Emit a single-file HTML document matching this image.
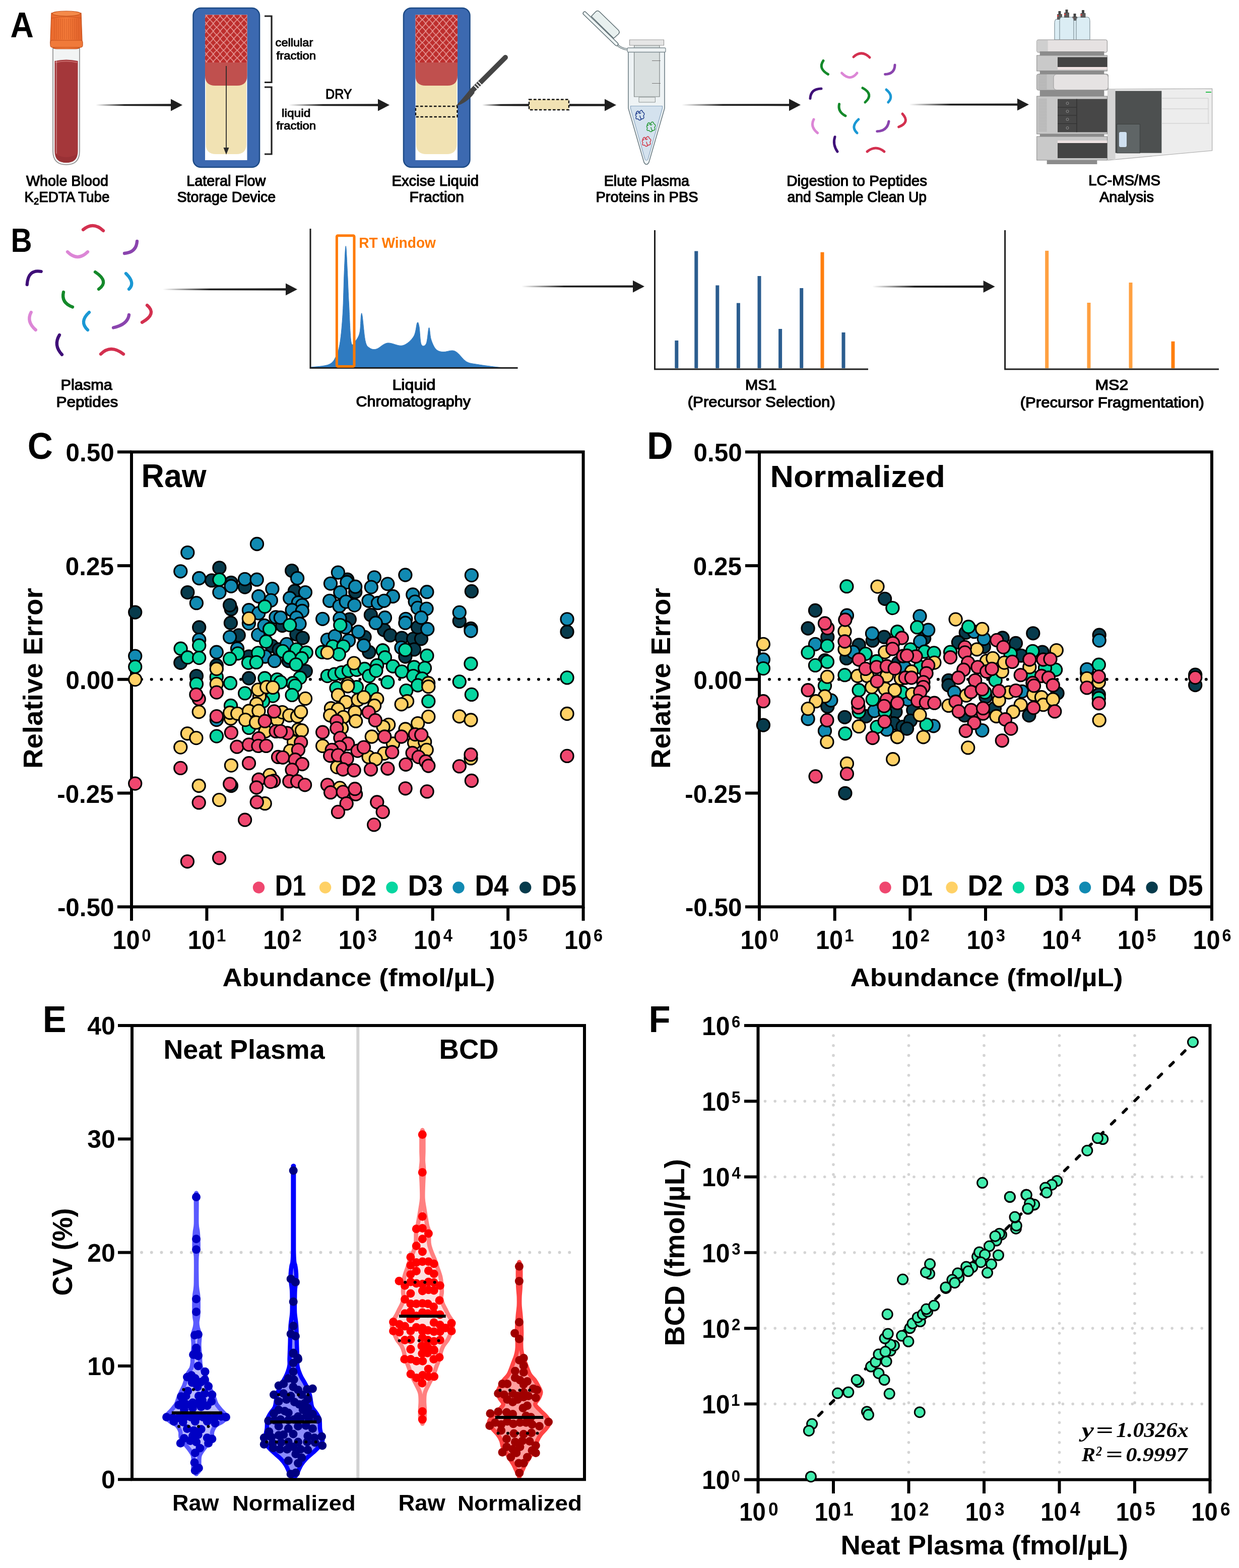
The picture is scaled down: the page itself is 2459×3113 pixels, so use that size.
<!DOCTYPE html>
<html><head><meta charset="utf-8"><title>Figure</title>
<style>html,body{margin:0;padding:0;background:#fff;}svg{display:block;}</style>
</head><body>
<svg width="2459" height="3113" viewBox="0 0 2459 3113" font-family="'Liberation Sans', Arial, sans-serif">
<rect x="0" y="0" width="2459" height="3113" fill="#fff"/>
<defs>
<pattern id="mesh" patternUnits="userSpaceOnUse" x="402.8" y="39" width="13.6" height="15.2"><path d="M0,0 Q3.8,3.2 6.8,7.6 Q9.8,12 13.6,15.2 M13.6,0 Q9.8,3.2 6.8,7.6 Q3.8,12 0,15.2" fill="none" stroke="#eaa2a0" stroke-width="1.3"/></pattern>
<linearGradient id="capg" x1="0" x2="1" y1="0" y2="0"><stop offset="0" stop-color="#e9682c"/><stop offset="0.5" stop-color="#f47b39"/><stop offset="1" stop-color="#e3622a"/></linearGradient>
</defs>
<text x="20.4" y="74.0" font-size="69.6" font-weight="bold" textLength="46.3" lengthAdjust="spacingAndGlyphs" >A</text>
<path d="M105,96 V300 Q105,327 131.5,327 Q158,327 158,300 V96 Z" fill="#f2f4f4" stroke="#8c8c8c" stroke-width="1.6"/>
<path d="M108.5,121 Q131.5,116 154.5,121 V300 Q154.5,323 131.5,323 Q108.5,323 108.5,300 Z" fill="#a4373a"/>
<path d="M110,124 Q131.5,119 153,124" stroke="#c86a6a" stroke-width="2" fill="none"/>
<path d="M112,118 V305" stroke="#ffffff" stroke-width="1" opacity="0.6"/>
<path d="M110,306 Q131.5,318 153,306 Q153,322 131.5,323 Q110,322 110,306 Z" fill="#963034" opacity="0.8"/>
<path d="M102,26 Q132,20 161,26 L163,82 Q164,96 150,97 H113 Q99,96 100,82 Z" fill="url(#capg)" stroke="#c4501a" stroke-width="1.2"/>
<rect x="100" y="80" width="64" height="14" rx="4" fill="#f07a3a" stroke="#c4501a" stroke-width="1.2"/>
<ellipse cx="131.5" cy="27" rx="28" ry="5" fill="#f48a4a" stroke="#c4501a" stroke-width="1.2"/>
<path d="M108,37 V78 M112,37 V78 M116,37 V78 M120,37 V78 M124,37 V78 M128,37 V78 M132,37 V78 M136,37 V78 M140,37 V78 M144,37 V78 M148,37 V78 M152,37 V78 M156,37 V78 " stroke="#c85420" stroke-width="0.9" opacity="0.7"/>
<path d="M102,36 Q132,31 161,36" stroke="#c85420" stroke-width="1.2" fill="none"/>
<linearGradient id="ag1" gradientUnits="userSpaceOnUse" x1="190" y1="0" x2="247.4" y2="0"><stop offset="0" stop-color="#1e1e1e" stop-opacity="0"/><stop offset="1" stop-color="#1e1e1e" stop-opacity="1"/></linearGradient>
<path d="M190,206.95 L341,206.35 L341,210.65 L190,210.05 Z" fill="url(#ag1)"/>
<path d="M339,196.5 L362,208.5 L339,220.5 Z" fill="#1e1e1e"/>
<text x="51.9" y="368.9" font-size="29.0" stroke="#000" stroke-width="1.22" stroke-linejoin="round" textLength="163.0" lengthAdjust="spacingAndGlyphs" >Whole Blood</text>
<text x="48.5" y="401" font-size="29" stroke="#000" stroke-width="1.2" stroke-linejoin="round" textLength="169" lengthAdjust="spacingAndGlyphs">K<tspan font-size="19" dy="5">2</tspan><tspan dy="-5">EDTA Tube</tspan></text>
<rect x="383.5" y="16" width="131.5" height="316" rx="15" fill="#3c69b0" stroke="#1c4a86" stroke-width="2.5"/>
<rect x="407" y="29.5" width="83.5" height="288.5" fill="#ffffff"/>
<path d="M408.5,150 H489 V286 Q489,306 469,306 H428.5 Q408.5,306 408.5,286 Z" fill="#f1e2b3"/>
<path d="M407,110 H490.5 V150 Q490.5,170 470.5,170 H427 Q407,170 407,150 Z" fill="#c0504e"/>
<rect x="407" y="29.5" width="83.5" height="94.5" fill="#bd2e2d"/>
<rect x="407" y="29.5" width="83.5" height="94.5" fill="url(#mesh)"/>
<path d="M449,131 V296" stroke="#2a2a2a" stroke-width="1.8"/>
<path d="M443.5,293 L449,307 L454.5,293 Z" fill="#2a2a2a"/>
<path d="M525,32 H539 V163.5 H525 M525,173 H539 V306 H525" fill="none" stroke="#222" stroke-width="3.2"/>
<text x="546.6" y="91.5" font-size="21.4" stroke="#000" stroke-width="0.90" stroke-linejoin="round" textLength="74.7" lengthAdjust="spacingAndGlyphs" >cellular</text>
<text x="548.6" y="118.0" font-size="21.4" stroke="#000" stroke-width="0.90" stroke-linejoin="round" textLength="78.6" lengthAdjust="spacingAndGlyphs" >fraction</text>
<text x="559.0" y="232.4" font-size="21.4" stroke="#000" stroke-width="0.90" stroke-linejoin="round" textLength="57.3" lengthAdjust="spacingAndGlyphs" >liquid</text>
<text x="548.6" y="257.0" font-size="21.4" stroke="#000" stroke-width="0.90" stroke-linejoin="round" textLength="78.6" lengthAdjust="spacingAndGlyphs" >fraction</text>
<text x="646.0" y="195.5" font-size="26.8" stroke="#000" stroke-width="1.13" stroke-linejoin="round" textLength="52.6" lengthAdjust="spacingAndGlyphs" >DRY</text>
<linearGradient id="ag2" gradientUnits="userSpaceOnUse" x1="573" y1="0" x2="641.0" y2="0"><stop offset="0" stop-color="#1e1e1e" stop-opacity="0"/><stop offset="1" stop-color="#1e1e1e" stop-opacity="1"/></linearGradient>
<path d="M573,206.95 L752,206.35 L752,210.65 L573,210.05 Z" fill="url(#ag2)"/>
<path d="M750,196.5 L773,208.5 L750,220.5 Z" fill="#1e1e1e"/>
<text x="370.2" y="368.9" font-size="29.0" stroke="#000" stroke-width="1.22" stroke-linejoin="round" textLength="157.1" lengthAdjust="spacingAndGlyphs" >Lateral Flow</text>
<text x="351.5" y="400.8" font-size="29.0" stroke="#000" stroke-width="1.22" stroke-linejoin="round" textLength="195.8" lengthAdjust="spacingAndGlyphs" >Storage Device</text>
<rect x="801.0" y="16" width="131.5" height="316" rx="15" fill="#3c69b0" stroke="#1c4a86" stroke-width="2.5"/>
<rect x="824.5" y="29.5" width="83.5" height="288.5" fill="#ffffff"/>
<path d="M826.0,150 H906.5 V286 Q906.5,306 886.5,306 H846.0 Q826.0,306 826.0,286 Z" fill="#f1e2b3"/>
<path d="M824.5,110 H908.0 V150 Q908.0,170 888.0,170 H844.5 Q824.5,170 824.5,150 Z" fill="#c0504e"/>
<rect x="824.5" y="29.5" width="83.5" height="94.5" fill="#bd2e2d"/>
<rect x="824.5" y="29.5" width="83.5" height="94.5" fill="url(#mesh)"/>
<rect x="825.0" y="211" width="82.5" height="21" fill="none" stroke="#111" stroke-width="2.4" stroke-dasharray="5.5 3.5"/>
<path d="M937,180 L1003,114" stroke="#454545" stroke-width="10" stroke-linecap="round"/>
<path d="M941,170 L948,177 M945,166 L952,173 M949,162 L956,169" stroke="#ffffff" stroke-width="1.8"/>
<path d="M934,176 L942,184 Q928,204 904,211 Q918,196 934,176 Z" fill="#454545"/>
<text x="777.4" y="368.9" font-size="29.0" stroke="#000" stroke-width="1.22" stroke-linejoin="round" textLength="172.6" lengthAdjust="spacingAndGlyphs" >Excise Liquid</text>
<text x="812.6" y="400.8" font-size="29.0" stroke="#000" stroke-width="1.22" stroke-linejoin="round" textLength="108.4" lengthAdjust="spacingAndGlyphs" >Fraction</text>
<linearGradient id="ag3" gradientUnits="userSpaceOnUse" x1="957" y1="0" x2="993.9" y2="0"><stop offset="0" stop-color="#1e1e1e" stop-opacity="0"/><stop offset="1" stop-color="#1e1e1e" stop-opacity="1"/></linearGradient>
<path d="M957,206.95 L1054,206.35 L1054,210.65 L957,210.05 Z" fill="url(#ag3)"/>
<path d="M1052,208.5 L1052,208.5 L1052,208.5 Z" fill="#1e1e1e"/>
<rect x="1050" y="197.5" width="79" height="20.5" fill="#f1e2b3" stroke="#111" stroke-width="2.4" stroke-dasharray="5.5 3.5"/>
<path d="M1130,206.35 L1202,206.35 L1202,210.65 L1130,210.65 Z" fill="#1e1e1e"/>
<path d="M1200,196.5 L1223,208.5 L1200,220.5 Z" fill="#1e1e1e"/>
<g stroke-linejoin="round">
<path d="M1223,87 Q1232,97 1245,98" fill="none" stroke="#5f6f74" stroke-width="4" stroke-linecap="round"/>
<path d="M1223,87 Q1232,97 1245,98" fill="none" stroke="#dfe6e6" stroke-width="1.8" stroke-linecap="round"/>
<path d="M1160.5,26.5 L1223.5,87.5" fill="none" stroke="#5f6f74" stroke-width="8" stroke-linecap="round"/>
<path d="M1160.5,26.5 L1223.5,87.5" fill="none" stroke="#eef4f4" stroke-width="5" stroke-linecap="round"/>
<path d="M1173.5,32.5 L1182,23.5 Q1186,19.5 1190,23.5 L1227,59.5 Q1231,63.5 1227.5,67.5 L1218,76 Z" fill="#e8f0ef" stroke="#5f6f74" stroke-width="1.5" stroke-linejoin="round"/>
<path d="M1247,103 H1319 V215 L1288,322 Q1283,331 1278,322 L1247,215 Z" fill="#eef3f5" stroke="#6f7f86" stroke-width="1.6"/>
<path d="M1251.5,210.5 H1314.5 V215 L1286,316 Q1283,321 1280,316 L1251.5,215 Z" fill="#d4e2ee" stroke="#8aa6c0" stroke-width="1.2"/>
<rect x="1258.6" y="90" width="50.4" height="102" fill="#d9dfdf" stroke="#7c8484" stroke-width="1.2"/>
<rect x="1268" y="193" width="32.4" height="10" fill="#e6eaea" stroke="#8a9292" stroke-width="1"/>
<path d="M1294,120.5 H1311 M1294,165.5 H1311" stroke="#777" stroke-width="1.2"/>
<rect x="1245" y="95" width="76" height="8.5" rx="2" fill="#eef2f3" stroke="#7c8a90" stroke-width="1.3"/>
<rect x="1249.5" y="79" width="68" height="11" fill="#e6e6e6" stroke="#9a9a9a" stroke-width="1.2"/>
</g>
<path d="M1262,226 q3,-9 7,-3 q4,-8 7,0 q5,2 1,7 q3,6 -4,6 q-3,5 -7,0 q-6,1 -3,-5 q-4,-3 2,-6 M1267,223 q2,4 5,1 M1270,230 q1,5 3,7" fill="none" stroke="#23408e" stroke-width="1.5" stroke-linecap="round"/>
<path d="M1284,249 q3,-9 7,-3 q4,-8 7,0 q5,2 1,7 q3,6 -4,6 q-3,5 -7,0 q-6,1 -3,-5 q-4,-3 2,-6 M1289,246 q2,4 5,1 M1292,253 q1,5 3,7" fill="none" stroke="#2a9a3a" stroke-width="1.5" stroke-linecap="round"/>
<path d="M1275,278 q3,-9 7,-3 q4,-8 7,0 q5,2 1,7 q3,6 -4,6 q-3,5 -7,0 q-6,1 -3,-5 q-4,-3 2,-6 M1280,275 q2,4 5,1 M1283,282 q1,5 3,7" fill="none" stroke="#d23a4a" stroke-width="1.5" stroke-linecap="round"/>
<text x="1198.7" y="368.9" font-size="29.0" stroke="#000" stroke-width="1.22" stroke-linejoin="round" textLength="169.4" lengthAdjust="spacingAndGlyphs" >Elute Plasma</text>
<text x="1182.5" y="400.8" font-size="29.0" stroke="#000" stroke-width="1.22" stroke-linejoin="round" >Proteins in PBS</text>
<linearGradient id="ag4" gradientUnits="userSpaceOnUse" x1="1353" y1="0" x2="1434.7" y2="0"><stop offset="0" stop-color="#1e1e1e" stop-opacity="0"/><stop offset="1" stop-color="#1e1e1e" stop-opacity="1"/></linearGradient>
<path d="M1353,206.75 L1568,206.15 L1568,210.45000000000002 L1353,209.85000000000002 Z" fill="url(#ag4)"/>
<path d="M1566,196.3 L1589,208.3 L1566,220.3 Z" fill="#1e1e1e"/>
<path d="M1694.0,113.0 Q1710.0,98.5 1726.0,114.0" fill="none" stroke="#d3304f" stroke-width="5.0" stroke-linecap="round"/>
<path d="M1634.0,120.5 Q1623.2,136.0 1643.5,147.5" fill="none" stroke="#14892a" stroke-width="5.0" stroke-linecap="round"/>
<path d="M1670.6,145.0 Q1687.4,162.4 1701.0,145.0" fill="none" stroke="#dc86d6" stroke-width="5.0" stroke-linecap="round"/>
<path d="M1776.0,129.0 Q1775.7,146.9 1756.6,147.5" fill="none" stroke="#8a44ae" stroke-width="5.0" stroke-linecap="round"/>
<path d="M1630.0,176.0 Q1609.0,176.2 1608.0,195.5" fill="none" stroke="#3f0f78" stroke-width="5.0" stroke-linecap="round"/>
<path d="M1712.0,174.6 Q1734.9,187.2 1717.0,203.0" fill="none" stroke="#14892a" stroke-width="5.0" stroke-linecap="round"/>
<path d="M1759.0,178.0 Q1774.5,190.7 1762.8,203.0" fill="none" stroke="#1a98d4" stroke-width="5.0" stroke-linecap="round"/>
<path d="M1665.6,206.6 Q1662.2,221.7 1678.0,230.0" fill="none" stroke="#14892a" stroke-width="5.0" stroke-linecap="round"/>
<path d="M1615.0,237.0 Q1607.2,251.5 1622.6,264.0" fill="none" stroke="#dc86d6" stroke-width="5.0" stroke-linecap="round"/>
<path d="M1703.8,237.0 Q1687.6,251.5 1701.0,264.0" fill="none" stroke="#1a98d4" stroke-width="5.0" stroke-linecap="round"/>
<path d="M1764.0,241.0 Q1760.8,260.5 1740.7,260.7" fill="none" stroke="#8a44ae" stroke-width="5.0" stroke-linecap="round"/>
<path d="M1791.0,226.0 Q1806.7,243.0 1783.7,252.0" fill="none" stroke="#d3304f" stroke-width="5.0" stroke-linecap="round"/>
<path d="M1657.0,271.7 Q1652.1,286.6 1662.0,301.0" fill="none" stroke="#3f0f78" stroke-width="5.0" stroke-linecap="round"/>
<path d="M1721.0,301.0 Q1738.0,287.0 1755.0,301.0" fill="none" stroke="#d3304f" stroke-width="5.0" stroke-linecap="round"/>
<text x="1561.2" y="368.9" font-size="29.0" stroke="#000" stroke-width="1.22" stroke-linejoin="round" textLength="278.8" lengthAdjust="spacingAndGlyphs" >Digestion to Peptides</text>
<text x="1562.5" y="400.8" font-size="29.0" stroke="#000" stroke-width="1.22" stroke-linejoin="round" textLength="276.6" lengthAdjust="spacingAndGlyphs" >and Sample Clean Up</text>
<linearGradient id="ag5" gradientUnits="userSpaceOnUse" x1="1804.6" y1="0" x2="1886.8" y2="0"><stop offset="0" stop-color="#1e1e1e" stop-opacity="0"/><stop offset="1" stop-color="#1e1e1e" stop-opacity="1"/></linearGradient>
<path d="M1804.6,206.04999999999998 L2021,205.45 L2021,209.75 L1804.6,209.15 Z" fill="url(#ag5)"/>
<path d="M2019,195.6 L2042,207.6 L2019,219.6 Z" fill="#1e1e1e"/>
<path d="M2093,46 Q2093,38 2098,38 H2108 Q2113,38 2113,46 V79 H2093 Z" fill="#dbedf4" stroke="#7d8f96" stroke-width="1.2"/>
<rect x="2098.0" y="28" width="10" height="11" fill="#5b5b5b"/>
<rect x="2100.5" y="22" width="5" height="7" fill="#444"/>
<rect x="2098.0" y="30" width="3" height="3" fill="#d04040"/>
<path d="M2126,48 Q2126,40 2131,40 H2135 Q2140,40 2140,48 V79 H2126 Z" fill="#dbedf4" stroke="#7d8f96" stroke-width="1.2"/>
<rect x="2128.0" y="33" width="10" height="8" fill="#5b5b5b"/>
<rect x="2130.5" y="27" width="5" height="7" fill="#444"/>
<rect x="2128.0" y="35" width="3" height="3" fill="#d04040"/>
<path d="M2103,42 Q2103,34 2108,34 H2126 Q2131,34 2131,42 V79 H2103 Z" fill="#dbedf4" stroke="#7d8f96" stroke-width="1.2"/>
<rect x="2112.0" y="25" width="10" height="10" fill="#5b5b5b"/>
<rect x="2114.5" y="19" width="5" height="7" fill="#444"/>
<rect x="2112.0" y="27" width="3" height="3" fill="#d04040"/>
<path d="M2136,42 Q2136,34 2141,34 H2158 Q2163,34 2163,42 V79 H2136 Z" fill="#dbedf4" stroke="#7d8f96" stroke-width="1.2"/>
<rect x="2144.5" y="26" width="10" height="9" fill="#5b5b5b"/>
<rect x="2147.0" y="20" width="5" height="7" fill="#444"/>
<rect x="2144.5" y="28" width="3" height="3" fill="#d04040"/>
<rect x="2057.7" y="79" width="139.70000000000027" height="25" rx="3" fill="#e6e2e2" stroke="#8a8a8a" stroke-width="1"/>
<rect x="2057.7" y="80" width="22" height="23" fill="#cfcfcf"/>
<rect x="2063.7" y="102" width="127.70000000000027" height="8" fill="#8c8c8c"/>
<rect x="2057.7" y="110" width="139.70000000000027" height="31" fill="#c9c9c9" stroke="#888" stroke-width="1"/>
<rect x="2099" y="113.5" width="98.40000000000009" height="19.5" fill="#444"/>
<rect x="2099" y="133" width="98.40000000000009" height="5" fill="#eee2e2"/>
<rect x="2063.7" y="140" width="127.70000000000027" height="7" fill="#8c8c8c"/>
<rect x="2057.7" y="147" width="141.70000000000027" height="32" rx="3" fill="#c4c4c4" stroke="#888" stroke-width="1"/>
<rect x="2091" y="147.5" width="108.40000000000009" height="31" rx="6" fill="#e6e3e3" stroke="#999" stroke-width="1"/>
<rect x="2063.7" y="179" width="127.70000000000027" height="12" fill="#8c8c8c"/>
<rect x="2057.7" y="191" width="139.70000000000027" height="75" fill="#c7c7c7" stroke="#888" stroke-width="1"/>
<rect x="2099" y="196.5" width="98.40000000000009" height="66" fill="#474747"/>
<path d="M2099,213 H2137 M2099,229 H2137 M2099,245.5 H2137 M2137,196.5 V262.5" stroke="#2e2e2e" stroke-width="1.2"/>
<circle cx="2118.5" cy="205" r="2.5" fill="none" stroke="#999" stroke-width="0.9"/>
<circle cx="2118.5" cy="221" r="2.5" fill="none" stroke="#999" stroke-width="0.9"/>
<circle cx="2118.5" cy="237" r="2.5" fill="none" stroke="#999" stroke-width="0.9"/>
<circle cx="2118.5" cy="254" r="2.5" fill="none" stroke="#999" stroke-width="0.9"/>
<rect x="2063.7" y="266" width="127.70000000000027" height="5" fill="#8c8c8c"/>
<rect x="2057.7" y="271" width="139.70000000000027" height="47" fill="#c9c9c9" stroke="#888" stroke-width="1"/>
<rect x="2099" y="284" width="98.40000000000009" height="30" fill="#444"/>
<rect x="2099" y="279" width="98.40000000000009" height="5" fill="#eee2e2"/>
<rect x="2077.7" y="318" width="99.70000000000027" height="8" fill="#8c8c8c"/>
<path d="M2060.7,149 H2077.7 M2060.7,152 H2077.7 M2060.7,155 H2077.7 M2060.7,158 H2077.7 M2060.7,161 H2077.7 M2060.7,164 H2077.7 M2060.7,167 H2077.7 M2060.7,170 H2077.7 M2060.7,173 H2077.7 M2060.7,176 H2077.7 " stroke="#9c9c9c" stroke-width="0.8"/>
<path d="M2060.7,197 H2077.7 M2060.7,200 H2077.7 M2060.7,203 H2077.7 M2060.7,206 H2077.7 M2060.7,209 H2077.7 M2060.7,212 H2077.7 M2060.7,215 H2077.7 M2060.7,218 H2077.7 M2060.7,221 H2077.7 M2060.7,224 H2077.7 M2060.7,227 H2077.7 M2060.7,230 H2077.7 M2060.7,233 H2077.7 M2060.7,236 H2077.7 M2060.7,239 H2077.7 M2060.7,242 H2077.7 M2060.7,245 H2077.7 M2060.7,248 H2077.7 M2060.7,251 H2077.7 M2060.7,254 H2077.7 M2060.7,257 H2077.7 M2060.7,260 H2077.7 " stroke="#9c9c9c" stroke-width="0.8"/>
<path d="M2199,177 L2405.7,176 V299 L2199,318 Z" fill="#ededed" stroke="#a8a8a8" stroke-width="1.2"/>
<path d="M2199,178 H2213.6 V317 H2199 Z" fill="#d4d4d4"/>
<path d="M2213.6,180.5 H2305.4 V303.8 H2213.6 Z" fill="#4d5050"/>
<rect x="2216.6" y="246.5" width="45.8" height="57.3" fill="#5f6566" stroke="#3a3d3d" stroke-width="1"/>
<rect x="2221" y="262" width="15" height="30" rx="3" fill="#cfe0f0"/>
<path d="M2305.4,195 H2398 M2305.4,216 H2398 M2305.4,245 H2400 M2398,195 V245" stroke="#c8c8c8" stroke-width="1" fill="none"/>
<path d="M2393,183 H2404" stroke="#2ec050" stroke-width="2"/>
<text x="2160.3" y="368.4" font-size="29.0" stroke="#000" stroke-width="1.22" stroke-linejoin="round" textLength="142.7" lengthAdjust="spacingAndGlyphs" >LC-MS/MS</text>
<text x="2182.0" y="401.0" font-size="29.0" stroke="#000" stroke-width="1.22" stroke-linejoin="round" >Analysis</text>
<text x="21.6" y="500.0" font-size="65.9" font-weight="bold" textLength="42.1" lengthAdjust="spacingAndGlyphs" >B</text>
<path d="M165.0,456.0 Q185.0,439.0 205.0,458.0" fill="none" stroke="#d3304f" stroke-width="6.3" stroke-linecap="round"/>
<path d="M134.0,500.0 Q154.0,520.0 174.0,500.0" fill="none" stroke="#dc86d6" stroke-width="6.3" stroke-linecap="round"/>
<path d="M272.0,479.0 Q270.5,501.0 247.0,503.0" fill="none" stroke="#8a44ae" stroke-width="6.3" stroke-linecap="round"/>
<path d="M81.7,539.0 Q55.7,534.0 53.7,565.0" fill="none" stroke="#3f0f78" stroke-width="6.3" stroke-linecap="round"/>
<path d="M189.0,540.0 Q217.5,559.0 196.0,574.0" fill="none" stroke="#14892a" stroke-width="6.3" stroke-linecap="round"/>
<path d="M250.0,543.0 Q269.0,561.5 256.0,574.0" fill="none" stroke="#1a98d4" stroke-width="6.3" stroke-linecap="round"/>
<path d="M126.0,580.0 Q121.0,601.2 144.0,609.5" fill="none" stroke="#14892a" stroke-width="6.3" stroke-linecap="round"/>
<path d="M61.7,620.0 Q51.8,638.5 70.8,655.0" fill="none" stroke="#dc86d6" stroke-width="6.3" stroke-linecap="round"/>
<path d="M177.0,620.0 Q156.5,638.5 174.0,655.0" fill="none" stroke="#1a98d4" stroke-width="6.3" stroke-linecap="round"/>
<path d="M256.0,625.0 Q253.5,644.2 225.0,650.5" fill="none" stroke="#8a44ae" stroke-width="6.3" stroke-linecap="round"/>
<path d="M292.0,606.0 Q312.0,623.0 282.0,640.0" fill="none" stroke="#d3304f" stroke-width="6.3" stroke-linecap="round"/>
<path d="M118.0,665.0 Q105.5,685.5 123.0,704.0" fill="none" stroke="#3f0f78" stroke-width="6.3" stroke-linecap="round"/>
<path d="M200.0,703.0 Q219.5,683.0 245.0,703.0" fill="none" stroke="#d3304f" stroke-width="6.3" stroke-linecap="round"/>
<linearGradient id="ag6" gradientUnits="userSpaceOnUse" x1="323" y1="0" x2="416.5" y2="0"><stop offset="0" stop-color="#1e1e1e" stop-opacity="0"/><stop offset="1" stop-color="#1e1e1e" stop-opacity="1"/></linearGradient>
<path d="M323,572.95 L569,572.35 L569,576.65 L323,576.05 Z" fill="url(#ag6)"/>
<path d="M567,562.5 L590,574.5 L567,586.5 Z" fill="#1e1e1e"/>
<text x="120.5" y="774.0" font-size="29.0" stroke="#000" stroke-width="1.22" stroke-linejoin="round" textLength="102.4" lengthAdjust="spacingAndGlyphs" >Plasma</text>
<text x="111.5" y="808.0" font-size="29.0" stroke="#000" stroke-width="1.22" stroke-linejoin="round" textLength="122.7" lengthAdjust="spacingAndGlyphs" >Peptides</text>
<path d="M617.5,729.0 C623.4,728.1 644.8,727.2 653.0,723.5 C661.2,719.8 663.3,714.4 667.0,707.0 C670.7,699.6 672.8,693.2 675.0,679.0 C677.2,664.8 678.9,645.2 680.3,622.0 C681.7,598.8 682.2,562.2 683.2,540.0 C684.2,517.8 685.2,488.5 686.3,488.5 C687.3,488.5 688.5,520.6 689.5,540.0 C690.5,559.4 691.2,581.8 692.5,605.0 C693.8,628.2 694.8,667.0 697.0,679.0 C699.2,691.0 702.8,679.9 705.6,676.7 C708.4,673.5 712.2,668.3 714.0,660.0 C715.8,651.7 715.8,632.5 716.6,627.0 C717.4,621.5 717.6,618.7 719.0,627.0 C720.4,635.3 722.7,666.1 725.0,676.7 C727.3,687.3 729.3,687.7 733.0,690.4 C736.7,693.1 741.0,694.6 747.0,693.0 C753.0,691.4 760.3,682.2 769.0,681.0 C777.7,679.8 790.3,688.2 799.0,686.0 C807.7,683.8 816.2,675.5 821.0,668.0 C825.8,660.5 826.2,644.2 828.0,641.0 C829.8,637.8 830.7,641.9 832.0,649.0 C833.3,656.1 833.7,678.1 836.0,683.6 C838.3,689.1 843.4,687.5 846.0,682.0 C848.6,676.5 849.8,651.8 851.4,650.5 C853.0,649.2 853.3,666.9 855.6,674.0 C857.9,681.1 861.1,688.9 865.0,693.0 C868.9,697.1 873.5,698.2 879.0,698.7 C884.5,699.2 893.0,695.5 898.0,696.0 C903.0,696.5 904.4,697.7 909.0,701.4 C913.6,705.1 919.2,714.3 925.7,718.0 C932.2,721.7 937.2,721.7 947.8,723.5 C958.3,725.3 978.6,727.9 989.0,729.0 C999.4,730.1 1006.5,729.8 1010.0,730.0 Z" fill="#2f7bc1" stroke="#2f7bc1" stroke-width="1" stroke-linejoin="round"/>
<path d="M616,454 V730.5 H1027.6" fill="none" stroke="#1e1e1e" stroke-width="3"/>
<rect x="668.4" y="467.8" width="34.6" height="259.6" rx="2" fill="none" stroke="#ff7a00" stroke-width="5"/>
<text x="712.2" y="492.0" font-size="30.3" font-weight="bold" fill="#ff7a00" textLength="152.8" lengthAdjust="spacingAndGlyphs" >RT Window</text>
<text x="778.4" y="773.5" font-size="29.0" stroke="#000" stroke-width="1.22" stroke-linejoin="round" textLength="86.1" lengthAdjust="spacingAndGlyphs" >Liquid</text>
<text x="706.5" y="807.0" font-size="29.0" stroke="#000" stroke-width="1.22" stroke-linejoin="round" textLength="227.5" lengthAdjust="spacingAndGlyphs" >Chromatography</text>
<linearGradient id="ag7" gradientUnits="userSpaceOnUse" x1="1035" y1="0" x2="1119.7" y2="0"><stop offset="0" stop-color="#1e1e1e" stop-opacity="0"/><stop offset="1" stop-color="#1e1e1e" stop-opacity="1"/></linearGradient>
<path d="M1035,567.1500000000001 L1258,566.5500000000001 L1258,570.85 L1035,570.25 Z" fill="url(#ag7)"/>
<path d="M1256,556.7 L1279,568.7 L1256,580.7 Z" fill="#1e1e1e"/>
<rect x="1339.3" y="676" width="7" height="55" fill="#2b5d8f"/>
<rect x="1378.3" y="498.5" width="7" height="232.5" fill="#2b5d8f"/>
<rect x="1420.3" y="566.5" width="7" height="164.5" fill="#2b5d8f"/>
<rect x="1461.9" y="601.6" width="7" height="129.39999999999998" fill="#2b5d8f"/>
<rect x="1503.5" y="548" width="7" height="183" fill="#2b5d8f"/>
<rect x="1545.1" y="653" width="7" height="78" fill="#2b5d8f"/>
<rect x="1587.2" y="572" width="7" height="159" fill="#2b5d8f"/>
<rect x="1670.5" y="660" width="7" height="71" fill="#2b5d8f"/>
<rect x="1628.5" y="500.7" width="7" height="230.3" fill="#ff7f0e"/>
<path d="M1299.5,457 V733 H1723" fill="none" stroke="#1e1e1e" stroke-width="3"/>
<text x="1479.1" y="773.6" font-size="29.0" stroke="#000" stroke-width="1.22" stroke-linejoin="round" textLength="62.3" lengthAdjust="spacingAndGlyphs" >MS1</text>
<text x="1364.7" y="808.0" font-size="29.0" stroke="#000" stroke-width="1.22" stroke-linejoin="round" textLength="293.2" lengthAdjust="spacingAndGlyphs" >(Precursor Selection)</text>
<linearGradient id="ag8" gradientUnits="userSpaceOnUse" x1="1731" y1="0" x2="1815.6" y2="0"><stop offset="0" stop-color="#1e1e1e" stop-opacity="0"/><stop offset="1" stop-color="#1e1e1e" stop-opacity="1"/></linearGradient>
<path d="M1731,567.45 L1953.6,566.85 L1953.6,571.15 L1731,570.55 Z" fill="url(#ag8)"/>
<path d="M1951.6,557 L1974.6,569 L1951.6,581 Z" fill="#1e1e1e"/>
<rect x="2074.2" y="497.8" width="7" height="233.2" fill="#ffa040"/>
<rect x="2157.5" y="601" width="7" height="130" fill="#ffa040"/>
<rect x="2240.5" y="561" width="7" height="170" fill="#ffa040"/>
<rect x="2324.5" y="677.8" width="7" height="53.200000000000045" fill="#ff7f0e"/>
<path d="M1994.6,457 V733 H2419" fill="none" stroke="#1e1e1e" stroke-width="3"/>
<text x="2173.4" y="774.0" font-size="29.0" stroke="#000" stroke-width="1.22" stroke-linejoin="round" textLength="65.9" lengthAdjust="spacingAndGlyphs" >MS2</text>
<text x="2024.7" y="809.0" font-size="29.0" stroke="#000" stroke-width="1.22" stroke-linejoin="round" textLength="365.2" lengthAdjust="spacingAndGlyphs" >(Precursor Fragmentation)</text>
<line x1="281" y1="1348.8" x2="1147.6" y2="1348.8" stroke="#000" stroke-width="6" stroke-linecap="round" stroke-dasharray="0 19.7"/>
<rect x="261" y="897.3" width="896.6" height="903.1" fill="none" stroke="#000" stroke-width="6"/>
<text x="130.5" y="916.2" font-size="49.4" font-weight="bold" >0.50</text>
<text x="129.8" y="1142.0" font-size="49.4" font-weight="bold" >0.25</text>
<text x="130.5" y="1367.8" font-size="49.4" font-weight="bold" >0.00</text>
<text x="113.2" y="1593.5" font-size="49.4" font-weight="bold" >-0.25</text>
<text x="113.9" y="1819.3" font-size="49.4" font-weight="bold" >-0.50</text>
<line x1="233" y1="897.3" x2="261" y2="897.3" stroke="#000" stroke-width="6"/>
<line x1="233" y1="1123.1" x2="261" y2="1123.1" stroke="#000" stroke-width="6"/>
<line x1="233" y1="1348.8" x2="261" y2="1348.8" stroke="#000" stroke-width="6"/>
<line x1="233" y1="1574.6" x2="261" y2="1574.6" stroke="#000" stroke-width="6"/>
<line x1="233" y1="1800.4" x2="261" y2="1800.4" stroke="#000" stroke-width="6"/>
<line x1="261.0" y1="1800.4" x2="261.0" y2="1828" stroke="#000" stroke-width="6"/>
<text x="223.4" y="1884.0" font-size="51.6" font-weight="bold" textLength="54.2" lengthAdjust="spacingAndGlyphs" >10</text>
<text x="281.3" y="1868.9" font-size="34.6" font-weight="bold" textLength="18.1" lengthAdjust="spacingAndGlyphs" >0</text>
<line x1="410.4" y1="1800.4" x2="410.4" y2="1828" stroke="#000" stroke-width="6"/>
<text x="372.8" y="1884.0" font-size="51.6" font-weight="bold" textLength="54.2" lengthAdjust="spacingAndGlyphs" >10</text>
<text x="430.1" y="1868.9" font-size="35.1" font-weight="bold" textLength="18.3" lengthAdjust="spacingAndGlyphs" >1</text>
<line x1="559.9" y1="1800.4" x2="559.9" y2="1828" stroke="#000" stroke-width="6"/>
<text x="522.2" y="1884.0" font-size="51.6" font-weight="bold" textLength="54.2" lengthAdjust="spacingAndGlyphs" >10</text>
<text x="580.3" y="1868.9" font-size="34.6" font-weight="bold" textLength="18.1" lengthAdjust="spacingAndGlyphs" >2</text>
<line x1="709.3" y1="1800.4" x2="709.3" y2="1828" stroke="#000" stroke-width="6"/>
<text x="671.7" y="1884.0" font-size="51.6" font-weight="bold" textLength="54.2" lengthAdjust="spacingAndGlyphs" >10</text>
<text x="730.1" y="1868.9" font-size="34.6" font-weight="bold" textLength="18.1" lengthAdjust="spacingAndGlyphs" >3</text>
<line x1="858.7" y1="1800.4" x2="858.7" y2="1828" stroke="#000" stroke-width="6"/>
<text x="821.1" y="1884.0" font-size="51.6" font-weight="bold" textLength="54.2" lengthAdjust="spacingAndGlyphs" >10</text>
<text x="879.8" y="1868.9" font-size="35.1" font-weight="bold" textLength="18.3" lengthAdjust="spacingAndGlyphs" >4</text>
<line x1="1008.2" y1="1800.4" x2="1008.2" y2="1828" stroke="#000" stroke-width="6"/>
<text x="970.5" y="1884.0" font-size="51.6" font-weight="bold" textLength="54.2" lengthAdjust="spacingAndGlyphs" >10</text>
<text x="1028.8" y="1868.9" font-size="35.1" font-weight="bold" textLength="18.3" lengthAdjust="spacingAndGlyphs" >5</text>
<line x1="1157.6" y1="1800.4" x2="1157.6" y2="1828" stroke="#000" stroke-width="6"/>
<text x="1120.0" y="1884.0" font-size="51.6" font-weight="bold" textLength="54.2" lengthAdjust="spacingAndGlyphs" >10</text>
<text x="1178.1" y="1868.9" font-size="34.6" font-weight="bold" textLength="18.1" lengthAdjust="spacingAndGlyphs" >6</text>
<circle cx="435.4" cy="1127.3" r="12.6" fill="#073b4c" stroke="#000" stroke-width="3.1"/>
<circle cx="420.1" cy="1152.4" r="12.6" fill="#073b4c" stroke="#000" stroke-width="3.1"/>
<circle cx="458.7" cy="1156.8" r="12.6" fill="#073b4c" stroke="#000" stroke-width="3.1"/>
<circle cx="486.0" cy="1165.6" r="12.6" fill="#073b4c" stroke="#000" stroke-width="3.1"/>
<circle cx="372.3" cy="1176.1" r="12.6" fill="#073b4c" stroke="#000" stroke-width="3.1"/>
<circle cx="268.2" cy="1215.6" r="12.6" fill="#073b4c" stroke="#000" stroke-width="3.1"/>
<circle cx="458.7" cy="1209.5" r="12.6" fill="#073b4c" stroke="#000" stroke-width="3.1"/>
<circle cx="456.1" cy="1201.6" r="12.6" fill="#073b4c" stroke="#000" stroke-width="3.1"/>
<circle cx="457.9" cy="1236.7" r="12.6" fill="#073b4c" stroke="#000" stroke-width="3.1"/>
<circle cx="473.7" cy="1261.3" r="12.6" fill="#073b4c" stroke="#000" stroke-width="3.1"/>
<circle cx="395.2" cy="1245.5" r="12.6" fill="#073b4c" stroke="#000" stroke-width="3.1"/>
<circle cx="358.3" cy="1315.8" r="12.6" fill="#073b4c" stroke="#000" stroke-width="3.1"/>
<circle cx="493.9" cy="1303.5" r="12.6" fill="#073b4c" stroke="#000" stroke-width="3.1"/>
<circle cx="539.5" cy="1282.4" r="12.6" fill="#073b4c" stroke="#000" stroke-width="3.1"/>
<circle cx="553.6" cy="1289.4" r="12.6" fill="#073b4c" stroke="#000" stroke-width="3.1"/>
<circle cx="429.8" cy="1321.0" r="12.6" fill="#073b4c" stroke="#000" stroke-width="3.1"/>
<circle cx="389.9" cy="1342.1" r="12.6" fill="#073b4c" stroke="#000" stroke-width="3.1"/>
<circle cx="493.9" cy="1346.5" r="12.6" fill="#073b4c" stroke="#000" stroke-width="3.1"/>
<circle cx="579.2" cy="1133.1" r="12.6" fill="#073b4c" stroke="#000" stroke-width="3.1"/>
<circle cx="689.4" cy="1150.7" r="12.6" fill="#073b4c" stroke="#000" stroke-width="3.1"/>
<circle cx="705.2" cy="1175.2" r="12.6" fill="#073b4c" stroke="#000" stroke-width="3.1"/>
<circle cx="584.9" cy="1173.5" r="12.6" fill="#073b4c" stroke="#000" stroke-width="3.1"/>
<circle cx="560.3" cy="1242.0" r="12.6" fill="#073b4c" stroke="#000" stroke-width="3.1"/>
<circle cx="735.9" cy="1220.9" r="12.6" fill="#073b4c" stroke="#000" stroke-width="3.1"/>
<circle cx="762.3" cy="1250.8" r="12.6" fill="#073b4c" stroke="#000" stroke-width="3.1"/>
<circle cx="774.5" cy="1261.3" r="12.6" fill="#073b4c" stroke="#000" stroke-width="3.1"/>
<circle cx="797.4" cy="1266.6" r="12.6" fill="#073b4c" stroke="#000" stroke-width="3.1"/>
<circle cx="820.2" cy="1268.3" r="12.6" fill="#073b4c" stroke="#000" stroke-width="3.1"/>
<circle cx="836.0" cy="1268.3" r="12.6" fill="#073b4c" stroke="#000" stroke-width="3.1"/>
<circle cx="829.0" cy="1245.5" r="12.6" fill="#073b4c" stroke="#000" stroke-width="3.1"/>
<circle cx="693.8" cy="1229.7" r="12.6" fill="#073b4c" stroke="#000" stroke-width="3.1"/>
<circle cx="723.6" cy="1264.8" r="12.6" fill="#073b4c" stroke="#000" stroke-width="3.1"/>
<circle cx="588.4" cy="1259.5" r="12.6" fill="#073b4c" stroke="#000" stroke-width="3.1"/>
<circle cx="600.7" cy="1266.6" r="12.6" fill="#073b4c" stroke="#000" stroke-width="3.1"/>
<circle cx="732.4" cy="1294.7" r="12.6" fill="#073b4c" stroke="#000" stroke-width="3.1"/>
<circle cx="572.6" cy="1312.2" r="12.6" fill="#073b4c" stroke="#000" stroke-width="3.1"/>
<circle cx="606.8" cy="1332.4" r="12.6" fill="#073b4c" stroke="#000" stroke-width="3.1"/>
<circle cx="822.0" cy="1289.4" r="12.6" fill="#073b4c" stroke="#000" stroke-width="3.1"/>
<circle cx="804.4" cy="1303.5" r="12.6" fill="#073b4c" stroke="#000" stroke-width="3.1"/>
<circle cx="935.9" cy="1173.9" r="12.6" fill="#073b4c" stroke="#000" stroke-width="3.1"/>
<circle cx="911.8" cy="1232.9" r="12.6" fill="#073b4c" stroke="#000" stroke-width="3.1"/>
<circle cx="934.5" cy="1248.0" r="12.6" fill="#073b4c" stroke="#000" stroke-width="3.1"/>
<circle cx="1125.5" cy="1254.3" r="12.6" fill="#073b4c" stroke="#000" stroke-width="3.1"/>
<circle cx="458.9" cy="1560.0" r="12.6" fill="#073b4c" stroke="#000" stroke-width="3.1"/>
<circle cx="372.3" cy="1097.1" r="12.6" fill="#118ab2" stroke="#000" stroke-width="3.1"/>
<circle cx="510.0" cy="1080.0" r="12.6" fill="#118ab2" stroke="#000" stroke-width="3.1"/>
<circle cx="358.3" cy="1134.3" r="12.6" fill="#118ab2" stroke="#000" stroke-width="3.1"/>
<circle cx="395.2" cy="1148.0" r="12.6" fill="#118ab2" stroke="#000" stroke-width="3.1"/>
<circle cx="458.7" cy="1163.8" r="12.6" fill="#118ab2" stroke="#000" stroke-width="3.1"/>
<circle cx="486.0" cy="1149.8" r="12.6" fill="#118ab2" stroke="#000" stroke-width="3.1"/>
<circle cx="509.7" cy="1150.7" r="12.6" fill="#118ab2" stroke="#000" stroke-width="3.1"/>
<circle cx="435.4" cy="1176.1" r="12.6" fill="#118ab2" stroke="#000" stroke-width="3.1"/>
<circle cx="389.9" cy="1197.2" r="12.6" fill="#118ab2" stroke="#000" stroke-width="3.1"/>
<circle cx="540.4" cy="1169.1" r="12.6" fill="#118ab2" stroke="#000" stroke-width="3.1"/>
<circle cx="513.2" cy="1184.0" r="12.6" fill="#118ab2" stroke="#000" stroke-width="3.1"/>
<circle cx="537.8" cy="1191.9" r="12.6" fill="#118ab2" stroke="#000" stroke-width="3.1"/>
<circle cx="493.9" cy="1211.2" r="12.6" fill="#118ab2" stroke="#000" stroke-width="3.1"/>
<circle cx="493.9" cy="1237.6" r="12.6" fill="#118ab2" stroke="#000" stroke-width="3.1"/>
<circle cx="513.2" cy="1217.4" r="12.6" fill="#118ab2" stroke="#000" stroke-width="3.1"/>
<circle cx="547.4" cy="1225.3" r="12.6" fill="#118ab2" stroke="#000" stroke-width="3.1"/>
<circle cx="456.1" cy="1264.8" r="12.6" fill="#118ab2" stroke="#000" stroke-width="3.1"/>
<circle cx="395.2" cy="1270.1" r="12.6" fill="#118ab2" stroke="#000" stroke-width="3.1"/>
<circle cx="268.2" cy="1302.6" r="12.6" fill="#118ab2" stroke="#000" stroke-width="3.1"/>
<circle cx="429.8" cy="1294.7" r="12.6" fill="#118ab2" stroke="#000" stroke-width="3.1"/>
<circle cx="471.0" cy="1287.7" r="12.6" fill="#118ab2" stroke="#000" stroke-width="3.1"/>
<circle cx="526.4" cy="1303.5" r="12.6" fill="#118ab2" stroke="#000" stroke-width="3.1"/>
<circle cx="544.8" cy="1312.2" r="12.6" fill="#118ab2" stroke="#000" stroke-width="3.1"/>
<circle cx="512.3" cy="1260.4" r="12.6" fill="#118ab2" stroke="#000" stroke-width="3.1"/>
<circle cx="524.6" cy="1242.0" r="12.6" fill="#118ab2" stroke="#000" stroke-width="3.1"/>
<circle cx="590.1" cy="1148.0" r="12.6" fill="#118ab2" stroke="#000" stroke-width="3.1"/>
<circle cx="670.9" cy="1136.6" r="12.6" fill="#118ab2" stroke="#000" stroke-width="3.1"/>
<circle cx="656.0" cy="1158.6" r="12.6" fill="#118ab2" stroke="#000" stroke-width="3.1"/>
<circle cx="688.5" cy="1155.9" r="12.6" fill="#118ab2" stroke="#000" stroke-width="3.1"/>
<circle cx="705.2" cy="1164.7" r="12.6" fill="#118ab2" stroke="#000" stroke-width="3.1"/>
<circle cx="675.3" cy="1176.1" r="12.6" fill="#118ab2" stroke="#000" stroke-width="3.1"/>
<circle cx="742.9" cy="1146.3" r="12.6" fill="#118ab2" stroke="#000" stroke-width="3.1"/>
<circle cx="736.8" cy="1165.6" r="12.6" fill="#118ab2" stroke="#000" stroke-width="3.1"/>
<circle cx="769.3" cy="1159.4" r="12.6" fill="#118ab2" stroke="#000" stroke-width="3.1"/>
<circle cx="804.4" cy="1141.5" r="12.6" fill="#118ab2" stroke="#000" stroke-width="3.1"/>
<circle cx="779.8" cy="1184.0" r="12.6" fill="#118ab2" stroke="#000" stroke-width="3.1"/>
<circle cx="819.3" cy="1180.5" r="12.6" fill="#118ab2" stroke="#000" stroke-width="3.1"/>
<circle cx="847.4" cy="1175.2" r="12.6" fill="#118ab2" stroke="#000" stroke-width="3.1"/>
<circle cx="605.9" cy="1176.1" r="12.6" fill="#118ab2" stroke="#000" stroke-width="3.1"/>
<circle cx="575.2" cy="1187.5" r="12.6" fill="#118ab2" stroke="#000" stroke-width="3.1"/>
<circle cx="591.9" cy="1196.3" r="12.6" fill="#118ab2" stroke="#000" stroke-width="3.1"/>
<circle cx="599.8" cy="1201.6" r="12.6" fill="#118ab2" stroke="#000" stroke-width="3.1"/>
<circle cx="579.6" cy="1211.2" r="12.6" fill="#118ab2" stroke="#000" stroke-width="3.1"/>
<circle cx="599.8" cy="1213.0" r="12.6" fill="#118ab2" stroke="#000" stroke-width="3.1"/>
<circle cx="654.2" cy="1192.8" r="12.6" fill="#118ab2" stroke="#000" stroke-width="3.1"/>
<circle cx="673.6" cy="1203.3" r="12.6" fill="#118ab2" stroke="#000" stroke-width="3.1"/>
<circle cx="686.7" cy="1194.6" r="12.6" fill="#118ab2" stroke="#000" stroke-width="3.1"/>
<circle cx="703.4" cy="1201.6" r="12.6" fill="#118ab2" stroke="#000" stroke-width="3.1"/>
<circle cx="731.5" cy="1192.8" r="12.6" fill="#118ab2" stroke="#000" stroke-width="3.1"/>
<circle cx="750.0" cy="1197.2" r="12.6" fill="#118ab2" stroke="#000" stroke-width="3.1"/>
<circle cx="762.3" cy="1192.8" r="12.6" fill="#118ab2" stroke="#000" stroke-width="3.1"/>
<circle cx="823.7" cy="1194.6" r="12.6" fill="#118ab2" stroke="#000" stroke-width="3.1"/>
<circle cx="829.0" cy="1206.9" r="12.6" fill="#118ab2" stroke="#000" stroke-width="3.1"/>
<circle cx="846.6" cy="1208.6" r="12.6" fill="#118ab2" stroke="#000" stroke-width="3.1"/>
<circle cx="640.2" cy="1228.8" r="12.6" fill="#118ab2" stroke="#000" stroke-width="3.1"/>
<circle cx="556.8" cy="1226.2" r="12.6" fill="#118ab2" stroke="#000" stroke-width="3.1"/>
<circle cx="588.4" cy="1226.2" r="12.6" fill="#118ab2" stroke="#000" stroke-width="3.1"/>
<circle cx="594.5" cy="1238.5" r="12.6" fill="#118ab2" stroke="#000" stroke-width="3.1"/>
<circle cx="764.0" cy="1226.2" r="12.6" fill="#118ab2" stroke="#000" stroke-width="3.1"/>
<circle cx="745.6" cy="1236.7" r="12.6" fill="#118ab2" stroke="#000" stroke-width="3.1"/>
<circle cx="805.3" cy="1228.8" r="12.6" fill="#118ab2" stroke="#000" stroke-width="3.1"/>
<circle cx="836.0" cy="1226.2" r="12.6" fill="#118ab2" stroke="#000" stroke-width="3.1"/>
<circle cx="848.3" cy="1249.0" r="12.6" fill="#118ab2" stroke="#000" stroke-width="3.1"/>
<circle cx="804.4" cy="1236.7" r="12.6" fill="#118ab2" stroke="#000" stroke-width="3.1"/>
<circle cx="674.4" cy="1227.9" r="12.6" fill="#118ab2" stroke="#000" stroke-width="3.1"/>
<circle cx="685.9" cy="1245.5" r="12.6" fill="#118ab2" stroke="#000" stroke-width="3.1"/>
<circle cx="711.3" cy="1254.3" r="12.6" fill="#118ab2" stroke="#000" stroke-width="3.1"/>
<circle cx="649.8" cy="1270.1" r="12.6" fill="#118ab2" stroke="#000" stroke-width="3.1"/>
<circle cx="664.8" cy="1263.1" r="12.6" fill="#118ab2" stroke="#000" stroke-width="3.1"/>
<circle cx="692.0" cy="1271.8" r="12.6" fill="#118ab2" stroke="#000" stroke-width="3.1"/>
<circle cx="721.9" cy="1281.5" r="12.6" fill="#118ab2" stroke="#000" stroke-width="3.1"/>
<circle cx="569.1" cy="1278.9" r="12.6" fill="#118ab2" stroke="#000" stroke-width="3.1"/>
<circle cx="796.5" cy="1285.9" r="12.6" fill="#118ab2" stroke="#000" stroke-width="3.1"/>
<circle cx="935.9" cy="1142.1" r="12.6" fill="#118ab2" stroke="#000" stroke-width="3.1"/>
<circle cx="911.8" cy="1215.9" r="12.6" fill="#118ab2" stroke="#000" stroke-width="3.1"/>
<circle cx="934.5" cy="1252.5" r="12.6" fill="#118ab2" stroke="#000" stroke-width="3.1"/>
<circle cx="1125.5" cy="1229.3" r="12.6" fill="#118ab2" stroke="#000" stroke-width="3.1"/>
<circle cx="429.9" cy="1429.1" r="12.6" fill="#118ab2" stroke="#000" stroke-width="3.1"/>
<circle cx="435.4" cy="1150.7" r="12.6" fill="#06d6a0" stroke="#000" stroke-width="3.1"/>
<circle cx="525.5" cy="1204.2" r="12.6" fill="#06d6a0" stroke="#000" stroke-width="3.1"/>
<circle cx="395.2" cy="1281.5" r="12.6" fill="#06d6a0" stroke="#000" stroke-width="3.1"/>
<circle cx="358.6" cy="1287.7" r="12.6" fill="#06d6a0" stroke="#000" stroke-width="3.1"/>
<circle cx="372.3" cy="1305.2" r="12.6" fill="#06d6a0" stroke="#000" stroke-width="3.1"/>
<circle cx="395.2" cy="1306.1" r="12.6" fill="#06d6a0" stroke="#000" stroke-width="3.1"/>
<circle cx="268.2" cy="1323.7" r="12.6" fill="#06d6a0" stroke="#000" stroke-width="3.1"/>
<circle cx="471.9" cy="1297.3" r="12.6" fill="#06d6a0" stroke="#000" stroke-width="3.1"/>
<circle cx="456.1" cy="1307.9" r="12.6" fill="#06d6a0" stroke="#000" stroke-width="3.1"/>
<circle cx="493.0" cy="1315.8" r="12.6" fill="#06d6a0" stroke="#000" stroke-width="3.1"/>
<circle cx="512.3" cy="1296.4" r="12.6" fill="#06d6a0" stroke="#000" stroke-width="3.1"/>
<circle cx="508.8" cy="1314.9" r="12.6" fill="#06d6a0" stroke="#000" stroke-width="3.1"/>
<circle cx="528.1" cy="1273.6" r="12.6" fill="#06d6a0" stroke="#000" stroke-width="3.1"/>
<circle cx="535.1" cy="1249.0" r="12.6" fill="#06d6a0" stroke="#000" stroke-width="3.1"/>
<circle cx="429.8" cy="1343.9" r="12.6" fill="#06d6a0" stroke="#000" stroke-width="3.1"/>
<circle cx="389.9" cy="1357.9" r="12.6" fill="#06d6a0" stroke="#000" stroke-width="3.1"/>
<circle cx="525.5" cy="1346.5" r="12.6" fill="#06d6a0" stroke="#000" stroke-width="3.1"/>
<circle cx="550.1" cy="1349.1" r="12.6" fill="#06d6a0" stroke="#000" stroke-width="3.1"/>
<circle cx="457.0" cy="1356.2" r="12.6" fill="#06d6a0" stroke="#000" stroke-width="3.1"/>
<circle cx="575.2" cy="1241.1" r="12.6" fill="#06d6a0" stroke="#000" stroke-width="3.1"/>
<circle cx="675.3" cy="1241.1" r="12.6" fill="#06d6a0" stroke="#000" stroke-width="3.1"/>
<circle cx="561.1" cy="1292.9" r="12.6" fill="#06d6a0" stroke="#000" stroke-width="3.1"/>
<circle cx="588.4" cy="1289.4" r="12.6" fill="#06d6a0" stroke="#000" stroke-width="3.1"/>
<circle cx="607.7" cy="1295.6" r="12.6" fill="#06d6a0" stroke="#000" stroke-width="3.1"/>
<circle cx="574.3" cy="1305.2" r="12.6" fill="#06d6a0" stroke="#000" stroke-width="3.1"/>
<circle cx="598.9" cy="1307.0" r="12.6" fill="#06d6a0" stroke="#000" stroke-width="3.1"/>
<circle cx="587.5" cy="1319.3" r="12.6" fill="#06d6a0" stroke="#000" stroke-width="3.1"/>
<circle cx="639.3" cy="1294.7" r="12.6" fill="#06d6a0" stroke="#000" stroke-width="3.1"/>
<circle cx="660.4" cy="1283.3" r="12.6" fill="#06d6a0" stroke="#000" stroke-width="3.1"/>
<circle cx="681.5" cy="1283.3" r="12.6" fill="#06d6a0" stroke="#000" stroke-width="3.1"/>
<circle cx="672.7" cy="1299.1" r="12.6" fill="#06d6a0" stroke="#000" stroke-width="3.1"/>
<circle cx="759.6" cy="1291.2" r="12.6" fill="#06d6a0" stroke="#000" stroke-width="3.1"/>
<circle cx="764.0" cy="1305.2" r="12.6" fill="#06d6a0" stroke="#000" stroke-width="3.1"/>
<circle cx="804.4" cy="1290.3" r="12.6" fill="#06d6a0" stroke="#000" stroke-width="3.1"/>
<circle cx="847.4" cy="1301.7" r="12.6" fill="#06d6a0" stroke="#000" stroke-width="3.1"/>
<circle cx="748.2" cy="1321.0" r="12.6" fill="#06d6a0" stroke="#000" stroke-width="3.1"/>
<circle cx="779.8" cy="1322.8" r="12.6" fill="#06d6a0" stroke="#000" stroke-width="3.1"/>
<circle cx="797.4" cy="1333.3" r="12.6" fill="#06d6a0" stroke="#000" stroke-width="3.1"/>
<circle cx="822.0" cy="1324.5" r="12.6" fill="#06d6a0" stroke="#000" stroke-width="3.1"/>
<circle cx="843.0" cy="1326.3" r="12.6" fill="#06d6a0" stroke="#000" stroke-width="3.1"/>
<circle cx="820.2" cy="1342.1" r="12.6" fill="#06d6a0" stroke="#000" stroke-width="3.1"/>
<circle cx="649.8" cy="1342.1" r="12.6" fill="#06d6a0" stroke="#000" stroke-width="3.1"/>
<circle cx="663.9" cy="1338.6" r="12.6" fill="#06d6a0" stroke="#000" stroke-width="3.1"/>
<circle cx="677.9" cy="1335.1" r="12.6" fill="#06d6a0" stroke="#000" stroke-width="3.1"/>
<circle cx="692.0" cy="1331.6" r="12.6" fill="#06d6a0" stroke="#000" stroke-width="3.1"/>
<circle cx="707.8" cy="1329.8" r="12.6" fill="#06d6a0" stroke="#000" stroke-width="3.1"/>
<circle cx="723.6" cy="1328.0" r="12.6" fill="#06d6a0" stroke="#000" stroke-width="3.1"/>
<circle cx="732.4" cy="1342.1" r="12.6" fill="#06d6a0" stroke="#000" stroke-width="3.1"/>
<circle cx="746.4" cy="1331.6" r="12.6" fill="#06d6a0" stroke="#000" stroke-width="3.1"/>
<circle cx="595.4" cy="1345.6" r="12.6" fill="#06d6a0" stroke="#000" stroke-width="3.1"/>
<circle cx="581.3" cy="1356.2" r="12.6" fill="#06d6a0" stroke="#000" stroke-width="3.1"/>
<circle cx="769.3" cy="1354.4" r="12.6" fill="#06d6a0" stroke="#000" stroke-width="3.1"/>
<circle cx="556.8" cy="1354.4" r="12.6" fill="#06d6a0" stroke="#000" stroke-width="3.1"/>
<circle cx="837.8" cy="1347.4" r="12.6" fill="#06d6a0" stroke="#000" stroke-width="3.1"/>
<circle cx="934.5" cy="1317.7" r="12.6" fill="#06d6a0" stroke="#000" stroke-width="3.1"/>
<circle cx="911.8" cy="1353.4" r="12.6" fill="#06d6a0" stroke="#000" stroke-width="3.1"/>
<circle cx="1125.5" cy="1345.4" r="12.6" fill="#06d6a0" stroke="#000" stroke-width="3.1"/>
<circle cx="486.1" cy="1376.4" r="12.6" fill="#06d6a0" stroke="#000" stroke-width="3.1"/>
<circle cx="541.5" cy="1381.6" r="12.6" fill="#06d6a0" stroke="#000" stroke-width="3.1"/>
<circle cx="522.1" cy="1392.2" r="12.6" fill="#06d6a0" stroke="#000" stroke-width="3.1"/>
<circle cx="458.0" cy="1401.0" r="12.6" fill="#06d6a0" stroke="#000" stroke-width="3.1"/>
<circle cx="494.0" cy="1444.9" r="12.6" fill="#06d6a0" stroke="#000" stroke-width="3.1"/>
<circle cx="429.9" cy="1461.6" r="12.6" fill="#06d6a0" stroke="#000" stroke-width="3.1"/>
<circle cx="585.8" cy="1361.4" r="12.6" fill="#06d6a0" stroke="#000" stroke-width="3.1"/>
<circle cx="579.6" cy="1379.9" r="12.6" fill="#06d6a0" stroke="#000" stroke-width="3.1"/>
<circle cx="667.5" cy="1365.8" r="12.6" fill="#06d6a0" stroke="#000" stroke-width="3.1"/>
<circle cx="707.9" cy="1364.1" r="12.6" fill="#06d6a0" stroke="#000" stroke-width="3.1"/>
<circle cx="737.8" cy="1369.3" r="12.6" fill="#06d6a0" stroke="#000" stroke-width="3.1"/>
<circle cx="806.3" cy="1371.1" r="12.6" fill="#06d6a0" stroke="#000" stroke-width="3.1"/>
<circle cx="829.2" cy="1360.5" r="12.6" fill="#06d6a0" stroke="#000" stroke-width="3.1"/>
<circle cx="850.3" cy="1392.2" r="12.6" fill="#06d6a0" stroke="#000" stroke-width="3.1"/>
<circle cx="935.9" cy="1378.9" r="12.6" fill="#06d6a0" stroke="#000" stroke-width="3.1"/>
<circle cx="493.9" cy="1227.9" r="12.6" fill="#ffd166" stroke="#000" stroke-width="3.1"/>
<circle cx="268.2" cy="1349.1" r="12.6" fill="#ffd166" stroke="#000" stroke-width="3.1"/>
<circle cx="429.8" cy="1328.0" r="12.6" fill="#ffd166" stroke="#000" stroke-width="3.1"/>
<circle cx="429.8" cy="1357.9" r="12.6" fill="#ffd166" stroke="#000" stroke-width="3.1"/>
<circle cx="649.8" cy="1295.6" r="12.6" fill="#ffd166" stroke="#000" stroke-width="3.1"/>
<circle cx="702.5" cy="1316.6" r="12.6" fill="#ffd166" stroke="#000" stroke-width="3.1"/>
<circle cx="690.2" cy="1357.9" r="12.6" fill="#ffd166" stroke="#000" stroke-width="3.1"/>
<circle cx="850.1" cy="1356.2" r="12.6" fill="#ffd166" stroke="#000" stroke-width="3.1"/>
<circle cx="515.1" cy="1382.5" r="12.6" fill="#ffd166" stroke="#000" stroke-width="3.1"/>
<circle cx="512.5" cy="1369.3" r="12.6" fill="#ffd166" stroke="#000" stroke-width="3.1"/>
<circle cx="529.2" cy="1364.1" r="12.6" fill="#ffd166" stroke="#000" stroke-width="3.1"/>
<circle cx="541.5" cy="1364.9" r="12.6" fill="#ffd166" stroke="#000" stroke-width="3.1"/>
<circle cx="509.0" cy="1397.5" r="12.6" fill="#ffd166" stroke="#000" stroke-width="3.1"/>
<circle cx="458.0" cy="1426.5" r="12.6" fill="#ffd166" stroke="#000" stroke-width="3.1"/>
<circle cx="456.2" cy="1415.0" r="12.6" fill="#ffd166" stroke="#000" stroke-width="3.1"/>
<circle cx="471.2" cy="1416.8" r="12.6" fill="#ffd166" stroke="#000" stroke-width="3.1"/>
<circle cx="494.0" cy="1411.5" r="12.6" fill="#ffd166" stroke="#000" stroke-width="3.1"/>
<circle cx="487.0" cy="1429.1" r="12.6" fill="#ffd166" stroke="#000" stroke-width="3.1"/>
<circle cx="513.4" cy="1411.5" r="12.6" fill="#ffd166" stroke="#000" stroke-width="3.1"/>
<circle cx="508.1" cy="1434.4" r="12.6" fill="#ffd166" stroke="#000" stroke-width="3.1"/>
<circle cx="526.5" cy="1451.9" r="12.6" fill="#ffd166" stroke="#000" stroke-width="3.1"/>
<circle cx="550.3" cy="1429.1" r="12.6" fill="#ffd166" stroke="#000" stroke-width="3.1"/>
<circle cx="394.7" cy="1413.3" r="12.6" fill="#ffd166" stroke="#000" stroke-width="3.1"/>
<circle cx="371.9" cy="1456.3" r="12.6" fill="#ffd166" stroke="#000" stroke-width="3.1"/>
<circle cx="389.4" cy="1465.1" r="12.6" fill="#ffd166" stroke="#000" stroke-width="3.1"/>
<circle cx="358.3" cy="1483.6" r="12.6" fill="#ffd166" stroke="#000" stroke-width="3.1"/>
<circle cx="458.9" cy="1519.6" r="12.6" fill="#ffd166" stroke="#000" stroke-width="3.1"/>
<circle cx="394.7" cy="1560.0" r="12.6" fill="#ffd166" stroke="#000" stroke-width="3.1"/>
<circle cx="535.3" cy="1538.9" r="12.6" fill="#ffd166" stroke="#000" stroke-width="3.1"/>
<circle cx="435.1" cy="1588.1" r="12.6" fill="#ffd166" stroke="#000" stroke-width="3.1"/>
<circle cx="525.7" cy="1595.2" r="12.6" fill="#ffd166" stroke="#000" stroke-width="3.1"/>
<circle cx="606.0" cy="1386.9" r="12.6" fill="#ffd166" stroke="#000" stroke-width="3.1"/>
<circle cx="690.3" cy="1362.3" r="12.6" fill="#ffd166" stroke="#000" stroke-width="3.1"/>
<circle cx="850.3" cy="1363.2" r="12.6" fill="#ffd166" stroke="#000" stroke-width="3.1"/>
<circle cx="671.0" cy="1379.9" r="12.6" fill="#ffd166" stroke="#000" stroke-width="3.1"/>
<circle cx="686.8" cy="1393.9" r="12.6" fill="#ffd166" stroke="#000" stroke-width="3.1"/>
<circle cx="710.5" cy="1389.5" r="12.6" fill="#ffd166" stroke="#000" stroke-width="3.1"/>
<circle cx="722.0" cy="1384.3" r="12.6" fill="#ffd166" stroke="#000" stroke-width="3.1"/>
<circle cx="748.3" cy="1387.8" r="12.6" fill="#ffd166" stroke="#000" stroke-width="3.1"/>
<circle cx="743.1" cy="1401.0" r="12.6" fill="#ffd166" stroke="#000" stroke-width="3.1"/>
<circle cx="808.1" cy="1392.2" r="12.6" fill="#ffd166" stroke="#000" stroke-width="3.1"/>
<circle cx="796.7" cy="1398.3" r="12.6" fill="#ffd166" stroke="#000" stroke-width="3.1"/>
<circle cx="560.3" cy="1414.1" r="12.6" fill="#ffd166" stroke="#000" stroke-width="3.1"/>
<circle cx="574.3" cy="1420.3" r="12.6" fill="#ffd166" stroke="#000" stroke-width="3.1"/>
<circle cx="590.1" cy="1422.1" r="12.6" fill="#ffd166" stroke="#000" stroke-width="3.1"/>
<circle cx="597.2" cy="1413.3" r="12.6" fill="#ffd166" stroke="#000" stroke-width="3.1"/>
<circle cx="656.9" cy="1406.2" r="12.6" fill="#ffd166" stroke="#000" stroke-width="3.1"/>
<circle cx="671.0" cy="1408.0" r="12.6" fill="#ffd166" stroke="#000" stroke-width="3.1"/>
<circle cx="655.2" cy="1420.3" r="12.6" fill="#ffd166" stroke="#000" stroke-width="3.1"/>
<circle cx="681.5" cy="1423.8" r="12.6" fill="#ffd166" stroke="#000" stroke-width="3.1"/>
<circle cx="704.4" cy="1414.1" r="12.6" fill="#ffd166" stroke="#000" stroke-width="3.1"/>
<circle cx="706.1" cy="1431.7" r="12.6" fill="#ffd166" stroke="#000" stroke-width="3.1"/>
<circle cx="771.2" cy="1438.8" r="12.6" fill="#ffd166" stroke="#000" stroke-width="3.1"/>
<circle cx="760.6" cy="1443.1" r="12.6" fill="#ffd166" stroke="#000" stroke-width="3.1"/>
<circle cx="850.3" cy="1422.9" r="12.6" fill="#ffd166" stroke="#000" stroke-width="3.1"/>
<circle cx="829.2" cy="1436.1" r="12.6" fill="#ffd166" stroke="#000" stroke-width="3.1"/>
<circle cx="804.6" cy="1447.5" r="12.6" fill="#ffd166" stroke="#000" stroke-width="3.1"/>
<circle cx="678.0" cy="1445.8" r="12.6" fill="#ffd166" stroke="#000" stroke-width="3.1"/>
<circle cx="591.9" cy="1448.4" r="12.6" fill="#ffd166" stroke="#000" stroke-width="3.1"/>
<circle cx="598.9" cy="1450.2" r="12.6" fill="#ffd166" stroke="#000" stroke-width="3.1"/>
<circle cx="583.1" cy="1473.0" r="12.6" fill="#ffd166" stroke="#000" stroke-width="3.1"/>
<circle cx="576.1" cy="1490.6" r="12.6" fill="#ffd166" stroke="#000" stroke-width="3.1"/>
<circle cx="640.2" cy="1480.9" r="12.6" fill="#ffd166" stroke="#000" stroke-width="3.1"/>
<circle cx="669.2" cy="1523.1" r="12.6" fill="#ffd166" stroke="#000" stroke-width="3.1"/>
<circle cx="737.8" cy="1462.5" r="12.6" fill="#ffd166" stroke="#000" stroke-width="3.1"/>
<circle cx="780.0" cy="1476.5" r="12.6" fill="#ffd166" stroke="#000" stroke-width="3.1"/>
<circle cx="762.4" cy="1495.9" r="12.6" fill="#ffd166" stroke="#000" stroke-width="3.1"/>
<circle cx="731.6" cy="1502.9" r="12.6" fill="#ffd166" stroke="#000" stroke-width="3.1"/>
<circle cx="745.7" cy="1507.3" r="12.6" fill="#ffd166" stroke="#000" stroke-width="3.1"/>
<circle cx="822.1" cy="1474.8" r="12.6" fill="#ffd166" stroke="#000" stroke-width="3.1"/>
<circle cx="843.2" cy="1473.0" r="12.6" fill="#ffd166" stroke="#000" stroke-width="3.1"/>
<circle cx="846.7" cy="1488.8" r="12.6" fill="#ffd166" stroke="#000" stroke-width="3.1"/>
<circle cx="674.5" cy="1564.4" r="12.6" fill="#ffd166" stroke="#000" stroke-width="3.1"/>
<circle cx="911.8" cy="1422.3" r="12.6" fill="#ffd166" stroke="#000" stroke-width="3.1"/>
<circle cx="934.5" cy="1429.5" r="12.6" fill="#ffd166" stroke="#000" stroke-width="3.1"/>
<circle cx="1125.5" cy="1417.0" r="12.6" fill="#ffd166" stroke="#000" stroke-width="3.1"/>
<circle cx="934.5" cy="1505.4" r="12.6" fill="#ffd166" stroke="#000" stroke-width="3.1"/>
<circle cx="394.7" cy="1387.8" r="12.6" fill="#ef476f" stroke="#000" stroke-width="3.1"/>
<circle cx="389.4" cy="1379.0" r="12.6" fill="#ef476f" stroke="#000" stroke-width="3.1"/>
<circle cx="429.9" cy="1374.6" r="12.6" fill="#ef476f" stroke="#000" stroke-width="3.1"/>
<circle cx="525.7" cy="1431.7" r="12.6" fill="#ef476f" stroke="#000" stroke-width="3.1"/>
<circle cx="544.1" cy="1412.4" r="12.6" fill="#ef476f" stroke="#000" stroke-width="3.1"/>
<circle cx="547.6" cy="1451.9" r="12.6" fill="#ef476f" stroke="#000" stroke-width="3.1"/>
<circle cx="429.9" cy="1422.1" r="12.6" fill="#ef476f" stroke="#000" stroke-width="3.1"/>
<circle cx="458.9" cy="1454.6" r="12.6" fill="#ef476f" stroke="#000" stroke-width="3.1"/>
<circle cx="513.4" cy="1466.0" r="12.6" fill="#ef476f" stroke="#000" stroke-width="3.1"/>
<circle cx="470.3" cy="1482.7" r="12.6" fill="#ef476f" stroke="#000" stroke-width="3.1"/>
<circle cx="494.0" cy="1478.3" r="12.6" fill="#ef476f" stroke="#000" stroke-width="3.1"/>
<circle cx="512.5" cy="1480.9" r="12.6" fill="#ef476f" stroke="#000" stroke-width="3.1"/>
<circle cx="528.3" cy="1480.9" r="12.6" fill="#ef476f" stroke="#000" stroke-width="3.1"/>
<circle cx="552.0" cy="1502.9" r="12.6" fill="#ef476f" stroke="#000" stroke-width="3.1"/>
<circle cx="494.0" cy="1515.2" r="12.6" fill="#ef476f" stroke="#000" stroke-width="3.1"/>
<circle cx="358.3" cy="1524.9" r="12.6" fill="#ef476f" stroke="#000" stroke-width="3.1"/>
<circle cx="268.2" cy="1555.6" r="12.6" fill="#ef476f" stroke="#000" stroke-width="3.1"/>
<circle cx="456.2" cy="1556.5" r="12.6" fill="#ef476f" stroke="#000" stroke-width="3.1"/>
<circle cx="513.4" cy="1547.7" r="12.6" fill="#ef476f" stroke="#000" stroke-width="3.1"/>
<circle cx="543.2" cy="1550.4" r="12.6" fill="#ef476f" stroke="#000" stroke-width="3.1"/>
<circle cx="537.1" cy="1552.1" r="12.6" fill="#ef476f" stroke="#000" stroke-width="3.1"/>
<circle cx="509.0" cy="1563.5" r="12.6" fill="#ef476f" stroke="#000" stroke-width="3.1"/>
<circle cx="394.7" cy="1593.4" r="12.6" fill="#ef476f" stroke="#000" stroke-width="3.1"/>
<circle cx="509.8" cy="1592.5" r="12.6" fill="#ef476f" stroke="#000" stroke-width="3.1"/>
<circle cx="486.1" cy="1627.7" r="12.6" fill="#ef476f" stroke="#000" stroke-width="3.1"/>
<circle cx="371.9" cy="1710.3" r="12.6" fill="#ef476f" stroke="#000" stroke-width="3.1"/>
<circle cx="435.1" cy="1703.3" r="12.6" fill="#ef476f" stroke="#000" stroke-width="3.1"/>
<circle cx="731.6" cy="1414.1" r="12.6" fill="#ef476f" stroke="#000" stroke-width="3.1"/>
<circle cx="744.8" cy="1430.0" r="12.6" fill="#ef476f" stroke="#000" stroke-width="3.1"/>
<circle cx="668.4" cy="1431.7" r="12.6" fill="#ef476f" stroke="#000" stroke-width="3.1"/>
<circle cx="668.4" cy="1445.8" r="12.6" fill="#ef476f" stroke="#000" stroke-width="3.1"/>
<circle cx="640.2" cy="1453.7" r="12.6" fill="#ef476f" stroke="#000" stroke-width="3.1"/>
<circle cx="569.9" cy="1455.5" r="12.6" fill="#ef476f" stroke="#000" stroke-width="3.1"/>
<circle cx="556.8" cy="1451.9" r="12.6" fill="#ef476f" stroke="#000" stroke-width="3.1"/>
<circle cx="675.4" cy="1465.1" r="12.6" fill="#ef476f" stroke="#000" stroke-width="3.1"/>
<circle cx="690.3" cy="1476.5" r="12.6" fill="#ef476f" stroke="#000" stroke-width="3.1"/>
<circle cx="597.2" cy="1473.9" r="12.6" fill="#ef476f" stroke="#000" stroke-width="3.1"/>
<circle cx="591.9" cy="1488.8" r="12.6" fill="#ef476f" stroke="#000" stroke-width="3.1"/>
<circle cx="561.2" cy="1503.8" r="12.6" fill="#ef476f" stroke="#000" stroke-width="3.1"/>
<circle cx="585.8" cy="1508.2" r="12.6" fill="#ef476f" stroke="#000" stroke-width="3.1"/>
<circle cx="599.8" cy="1517.0" r="12.6" fill="#ef476f" stroke="#000" stroke-width="3.1"/>
<circle cx="579.6" cy="1528.4" r="12.6" fill="#ef476f" stroke="#000" stroke-width="3.1"/>
<circle cx="574.3" cy="1551.2" r="12.6" fill="#ef476f" stroke="#000" stroke-width="3.1"/>
<circle cx="590.1" cy="1551.2" r="12.6" fill="#ef476f" stroke="#000" stroke-width="3.1"/>
<circle cx="605.1" cy="1558.3" r="12.6" fill="#ef476f" stroke="#000" stroke-width="3.1"/>
<circle cx="674.5" cy="1483.6" r="12.6" fill="#ef476f" stroke="#000" stroke-width="3.1"/>
<circle cx="658.7" cy="1488.8" r="12.6" fill="#ef476f" stroke="#000" stroke-width="3.1"/>
<circle cx="655.2" cy="1500.3" r="12.6" fill="#ef476f" stroke="#000" stroke-width="3.1"/>
<circle cx="671.0" cy="1499.4" r="12.6" fill="#ef476f" stroke="#000" stroke-width="3.1"/>
<circle cx="688.6" cy="1506.4" r="12.6" fill="#ef476f" stroke="#000" stroke-width="3.1"/>
<circle cx="680.7" cy="1527.5" r="12.6" fill="#ef476f" stroke="#000" stroke-width="3.1"/>
<circle cx="702.6" cy="1529.3" r="12.6" fill="#ef476f" stroke="#000" stroke-width="3.1"/>
<circle cx="709.7" cy="1490.6" r="12.6" fill="#ef476f" stroke="#000" stroke-width="3.1"/>
<circle cx="722.0" cy="1483.6" r="12.6" fill="#ef476f" stroke="#000" stroke-width="3.1"/>
<circle cx="763.3" cy="1462.5" r="12.6" fill="#ef476f" stroke="#000" stroke-width="3.1"/>
<circle cx="778.2" cy="1493.2" r="12.6" fill="#ef476f" stroke="#000" stroke-width="3.1"/>
<circle cx="736.0" cy="1527.5" r="12.6" fill="#ef476f" stroke="#000" stroke-width="3.1"/>
<circle cx="769.4" cy="1525.8" r="12.6" fill="#ef476f" stroke="#000" stroke-width="3.1"/>
<circle cx="796.7" cy="1462.5" r="12.6" fill="#ef476f" stroke="#000" stroke-width="3.1"/>
<circle cx="823.9" cy="1458.1" r="12.6" fill="#ef476f" stroke="#000" stroke-width="3.1"/>
<circle cx="836.2" cy="1459.0" r="12.6" fill="#ef476f" stroke="#000" stroke-width="3.1"/>
<circle cx="818.6" cy="1495.0" r="12.6" fill="#ef476f" stroke="#000" stroke-width="3.1"/>
<circle cx="830.9" cy="1502.9" r="12.6" fill="#ef476f" stroke="#000" stroke-width="3.1"/>
<circle cx="845.0" cy="1511.7" r="12.6" fill="#ef476f" stroke="#000" stroke-width="3.1"/>
<circle cx="850.3" cy="1520.5" r="12.6" fill="#ef476f" stroke="#000" stroke-width="3.1"/>
<circle cx="805.4" cy="1517.8" r="12.6" fill="#ef476f" stroke="#000" stroke-width="3.1"/>
<circle cx="649.9" cy="1558.3" r="12.6" fill="#ef476f" stroke="#000" stroke-width="3.1"/>
<circle cx="656.1" cy="1573.2" r="12.6" fill="#ef476f" stroke="#000" stroke-width="3.1"/>
<circle cx="680.7" cy="1572.3" r="12.6" fill="#ef476f" stroke="#000" stroke-width="3.1"/>
<circle cx="706.1" cy="1576.7" r="12.6" fill="#ef476f" stroke="#000" stroke-width="3.1"/>
<circle cx="704.4" cy="1566.2" r="12.6" fill="#ef476f" stroke="#000" stroke-width="3.1"/>
<circle cx="687.7" cy="1595.2" r="12.6" fill="#ef476f" stroke="#000" stroke-width="3.1"/>
<circle cx="671.0" cy="1611.9" r="12.6" fill="#ef476f" stroke="#000" stroke-width="3.1"/>
<circle cx="748.3" cy="1592.5" r="12.6" fill="#ef476f" stroke="#000" stroke-width="3.1"/>
<circle cx="759.7" cy="1611.9" r="12.6" fill="#ef476f" stroke="#000" stroke-width="3.1"/>
<circle cx="742.2" cy="1637.4" r="12.6" fill="#ef476f" stroke="#000" stroke-width="3.1"/>
<circle cx="804.6" cy="1565.3" r="12.6" fill="#ef476f" stroke="#000" stroke-width="3.1"/>
<circle cx="847.6" cy="1571.4" r="12.6" fill="#ef476f" stroke="#000" stroke-width="3.1"/>
<circle cx="934.5" cy="1498.2" r="12.6" fill="#ef476f" stroke="#000" stroke-width="3.1"/>
<circle cx="911.8" cy="1521.4" r="12.6" fill="#ef476f" stroke="#000" stroke-width="3.1"/>
<circle cx="935.9" cy="1550.0" r="12.6" fill="#ef476f" stroke="#000" stroke-width="3.1"/>
<circle cx="1125.5" cy="1500.9" r="12.6" fill="#ef476f" stroke="#000" stroke-width="3.1"/>
<text transform="translate(83.8,1522.5) rotate(-90)" x="-3.6" y="0" font-size="53.1" font-weight="bold" textLength="358.8" lengthAdjust="spacingAndGlyphs">Relative Error</text>
<text x="441.6" y="1958.0" font-size="50.3" font-weight="bold" textLength="541.1" lengthAdjust="spacingAndGlyphs" >Abundance (fmol/µL)</text>
<text x="54.8" y="910.8" font-size="74.7" font-weight="bold" textLength="50.1" lengthAdjust="spacingAndGlyphs" >C</text>
<text x="280.6" y="967.0" font-size="64.3" font-weight="bold" textLength="129.1" lengthAdjust="spacingAndGlyphs" >Raw</text>
<circle cx="513.5" cy="1762" r="11.7" fill="#ef476f"/>
<text x="545.7" y="1777.8" font-size="57.8" font-weight="bold" textLength="61.7" lengthAdjust="spacingAndGlyphs" >D1</text>
<circle cx="645.6" cy="1762" r="11.7" fill="#ffd166"/>
<text x="676.9" y="1777.8" font-size="57.0" font-weight="bold" textLength="70.1" lengthAdjust="spacingAndGlyphs" >D2</text>
<circle cx="778" cy="1762" r="11.7" fill="#06d6a0"/>
<text x="809.5" y="1777.8" font-size="57.0" font-weight="bold" textLength="69.6" lengthAdjust="spacingAndGlyphs" >D3</text>
<circle cx="910" cy="1762" r="11.7" fill="#118ab2"/>
<text x="942.4" y="1777.8" font-size="57.8" font-weight="bold" textLength="67.0" lengthAdjust="spacingAndGlyphs" >D4</text>
<circle cx="1042.7" cy="1762" r="11.7" fill="#073b4c"/>
<text x="1075.0" y="1777.8" font-size="57.8" font-weight="bold" textLength="69.2" lengthAdjust="spacingAndGlyphs" >D5</text>
<line x1="1527" y1="1348.8" x2="2395" y2="1348.8" stroke="#000" stroke-width="6" stroke-linecap="round" stroke-dasharray="0 19.7"/>
<rect x="1507" y="897.3" width="898.0" height="903.1" fill="none" stroke="#000" stroke-width="6"/>
<text x="1376.5" y="916.2" font-size="49.4" font-weight="bold" >0.50</text>
<text x="1375.8" y="1142.0" font-size="49.4" font-weight="bold" >0.25</text>
<text x="1376.5" y="1367.8" font-size="49.4" font-weight="bold" >0.00</text>
<text x="1359.2" y="1593.5" font-size="49.4" font-weight="bold" >-0.25</text>
<text x="1359.9" y="1819.3" font-size="49.4" font-weight="bold" >-0.50</text>
<line x1="1479" y1="897.3" x2="1507" y2="897.3" stroke="#000" stroke-width="6"/>
<line x1="1479" y1="1123.1" x2="1507" y2="1123.1" stroke="#000" stroke-width="6"/>
<line x1="1479" y1="1348.8" x2="1507" y2="1348.8" stroke="#000" stroke-width="6"/>
<line x1="1479" y1="1574.6" x2="1507" y2="1574.6" stroke="#000" stroke-width="6"/>
<line x1="1479" y1="1800.4" x2="1507" y2="1800.4" stroke="#000" stroke-width="6"/>
<line x1="1507.0" y1="1800.4" x2="1507.0" y2="1828" stroke="#000" stroke-width="6"/>
<text x="1469.4" y="1884.0" font-size="51.6" font-weight="bold" textLength="54.2" lengthAdjust="spacingAndGlyphs" >10</text>
<text x="1527.3" y="1868.9" font-size="34.6" font-weight="bold" textLength="18.1" lengthAdjust="spacingAndGlyphs" >0</text>
<line x1="1656.7" y1="1800.4" x2="1656.7" y2="1828" stroke="#000" stroke-width="6"/>
<text x="1619.0" y="1884.0" font-size="51.6" font-weight="bold" textLength="54.2" lengthAdjust="spacingAndGlyphs" >10</text>
<text x="1676.3" y="1868.9" font-size="35.1" font-weight="bold" textLength="18.3" lengthAdjust="spacingAndGlyphs" >1</text>
<line x1="1806.3" y1="1800.4" x2="1806.3" y2="1828" stroke="#000" stroke-width="6"/>
<text x="1768.7" y="1884.0" font-size="51.6" font-weight="bold" textLength="54.2" lengthAdjust="spacingAndGlyphs" >10</text>
<text x="1826.8" y="1868.9" font-size="34.6" font-weight="bold" textLength="18.1" lengthAdjust="spacingAndGlyphs" >2</text>
<line x1="1956.0" y1="1800.4" x2="1956.0" y2="1828" stroke="#000" stroke-width="6"/>
<text x="1918.4" y="1884.0" font-size="51.6" font-weight="bold" textLength="54.2" lengthAdjust="spacingAndGlyphs" >10</text>
<text x="1976.8" y="1868.9" font-size="34.6" font-weight="bold" textLength="18.1" lengthAdjust="spacingAndGlyphs" >3</text>
<line x1="2105.7" y1="1800.4" x2="2105.7" y2="1828" stroke="#000" stroke-width="6"/>
<text x="2068.0" y="1884.0" font-size="51.6" font-weight="bold" textLength="54.2" lengthAdjust="spacingAndGlyphs" >10</text>
<text x="2126.8" y="1868.9" font-size="35.1" font-weight="bold" textLength="18.3" lengthAdjust="spacingAndGlyphs" >4</text>
<line x1="2255.3" y1="1800.4" x2="2255.3" y2="1828" stroke="#000" stroke-width="6"/>
<text x="2217.7" y="1884.0" font-size="51.6" font-weight="bold" textLength="54.2" lengthAdjust="spacingAndGlyphs" >10</text>
<text x="2275.9" y="1868.9" font-size="35.1" font-weight="bold" textLength="18.3" lengthAdjust="spacingAndGlyphs" >5</text>
<line x1="2405.0" y1="1800.4" x2="2405.0" y2="1828" stroke="#000" stroke-width="6"/>
<text x="2367.4" y="1884.0" font-size="51.6" font-weight="bold" textLength="54.2" lengthAdjust="spacingAndGlyphs" >10</text>
<text x="2425.5" y="1868.9" font-size="34.6" font-weight="bold" textLength="18.1" lengthAdjust="spacingAndGlyphs" >6</text>
<circle cx="1756.1" cy="1188.8" r="12.6" fill="#073b4c" stroke="#000" stroke-width="3.1"/>
<circle cx="1618.0" cy="1212.0" r="12.6" fill="#073b4c" stroke="#000" stroke-width="3.1"/>
<circle cx="1603.6" cy="1247.5" r="12.6" fill="#073b4c" stroke="#000" stroke-width="3.1"/>
<circle cx="1642.3" cy="1264.7" r="12.6" fill="#073b4c" stroke="#000" stroke-width="3.1"/>
<circle cx="1680.0" cy="1306.9" r="12.6" fill="#073b4c" stroke="#000" stroke-width="3.1"/>
<circle cx="1637.0" cy="1311.2" r="12.6" fill="#073b4c" stroke="#000" stroke-width="3.1"/>
<circle cx="1704.6" cy="1280.5" r="12.6" fill="#073b4c" stroke="#000" stroke-width="3.1"/>
<circle cx="1731.8" cy="1271.7" r="12.6" fill="#073b4c" stroke="#000" stroke-width="3.1"/>
<circle cx="1754.7" cy="1264.7" r="12.6" fill="#073b4c" stroke="#000" stroke-width="3.1"/>
<circle cx="1782.8" cy="1315.6" r="12.6" fill="#073b4c" stroke="#000" stroke-width="3.1"/>
<circle cx="1834.2" cy="1267.3" r="12.6" fill="#073b4c" stroke="#000" stroke-width="3.1"/>
<circle cx="1916.8" cy="1255.9" r="12.6" fill="#073b4c" stroke="#000" stroke-width="3.1"/>
<circle cx="1901.9" cy="1275.2" r="12.6" fill="#073b4c" stroke="#000" stroke-width="3.1"/>
<circle cx="1952.8" cy="1284.0" r="12.6" fill="#073b4c" stroke="#000" stroke-width="3.1"/>
<circle cx="1989.7" cy="1266.5" r="12.6" fill="#073b4c" stroke="#000" stroke-width="3.1"/>
<circle cx="2016.0" cy="1277.0" r="12.6" fill="#073b4c" stroke="#000" stroke-width="3.1"/>
<circle cx="2050.3" cy="1257.3" r="12.6" fill="#073b4c" stroke="#000" stroke-width="3.1"/>
<circle cx="1882.6" cy="1350.8" r="12.6" fill="#073b4c" stroke="#000" stroke-width="3.1"/>
<circle cx="2026.6" cy="1301.6" r="12.6" fill="#073b4c" stroke="#000" stroke-width="3.1"/>
<circle cx="2068.7" cy="1294.6" r="12.6" fill="#073b4c" stroke="#000" stroke-width="3.1"/>
<circle cx="2181.7" cy="1260.7" r="12.6" fill="#073b4c" stroke="#000" stroke-width="3.1"/>
<circle cx="2157.2" cy="1336.0" r="12.6" fill="#073b4c" stroke="#000" stroke-width="3.1"/>
<circle cx="2372.2" cy="1339.7" r="12.6" fill="#073b4c" stroke="#000" stroke-width="3.1"/>
<circle cx="1642.3" cy="1402.7" r="12.6" fill="#073b4c" stroke="#000" stroke-width="3.1"/>
<circle cx="1514.9" cy="1439.6" r="12.6" fill="#073b4c" stroke="#000" stroke-width="3.1"/>
<circle cx="1676.5" cy="1423.8" r="12.6" fill="#073b4c" stroke="#000" stroke-width="3.1"/>
<circle cx="1718.7" cy="1422.0" r="12.6" fill="#073b4c" stroke="#000" stroke-width="3.1"/>
<circle cx="1777.5" cy="1413.2" r="12.6" fill="#073b4c" stroke="#000" stroke-width="3.1"/>
<circle cx="1774.0" cy="1436.1" r="12.6" fill="#073b4c" stroke="#000" stroke-width="3.1"/>
<circle cx="1791.6" cy="1443.1" r="12.6" fill="#073b4c" stroke="#000" stroke-width="3.1"/>
<circle cx="1677.4" cy="1574.8" r="12.6" fill="#073b4c" stroke="#000" stroke-width="3.1"/>
<circle cx="1812.3" cy="1409.7" r="12.6" fill="#073b4c" stroke="#000" stroke-width="3.1"/>
<circle cx="1807.0" cy="1430.8" r="12.6" fill="#073b4c" stroke="#000" stroke-width="3.1"/>
<circle cx="1800.0" cy="1446.6" r="12.6" fill="#073b4c" stroke="#000" stroke-width="3.1"/>
<circle cx="1882.6" cy="1360.5" r="12.6" fill="#073b4c" stroke="#000" stroke-width="3.1"/>
<circle cx="1914.2" cy="1420.3" r="12.6" fill="#073b4c" stroke="#000" stroke-width="3.1"/>
<circle cx="1956.3" cy="1383.4" r="12.6" fill="#073b4c" stroke="#000" stroke-width="3.1"/>
<circle cx="1973.9" cy="1406.2" r="12.6" fill="#073b4c" stroke="#000" stroke-width="3.1"/>
<circle cx="2042.4" cy="1420.3" r="12.6" fill="#073b4c" stroke="#000" stroke-width="3.1"/>
<circle cx="2098.6" cy="1376.3" r="12.6" fill="#073b4c" stroke="#000" stroke-width="3.1"/>
<circle cx="2180.8" cy="1379.0" r="12.6" fill="#073b4c" stroke="#000" stroke-width="3.1"/>
<circle cx="2372.2" cy="1360.0" r="12.6" fill="#073b4c" stroke="#000" stroke-width="3.1"/>
<circle cx="1680.9" cy="1221.7" r="12.6" fill="#118ab2" stroke="#000" stroke-width="3.1"/>
<circle cx="1618.0" cy="1278.8" r="12.6" fill="#118ab2" stroke="#000" stroke-width="3.1"/>
<circle cx="1514.9" cy="1309.5" r="12.6" fill="#118ab2" stroke="#000" stroke-width="3.1"/>
<circle cx="1693.2" cy="1294.6" r="12.6" fill="#118ab2" stroke="#000" stroke-width="3.1"/>
<circle cx="1731.0" cy="1257.7" r="12.6" fill="#118ab2" stroke="#000" stroke-width="3.1"/>
<circle cx="1795.1" cy="1324.4" r="12.6" fill="#118ab2" stroke="#000" stroke-width="3.1"/>
<circle cx="1825.5" cy="1223.4" r="12.6" fill="#118ab2" stroke="#000" stroke-width="3.1"/>
<circle cx="1842.2" cy="1250.7" r="12.6" fill="#118ab2" stroke="#000" stroke-width="3.1"/>
<circle cx="1826.3" cy="1273.5" r="12.6" fill="#118ab2" stroke="#000" stroke-width="3.1"/>
<circle cx="1933.5" cy="1254.2" r="12.6" fill="#118ab2" stroke="#000" stroke-width="3.1"/>
<circle cx="1952.8" cy="1268.2" r="12.6" fill="#118ab2" stroke="#000" stroke-width="3.1"/>
<circle cx="2181.7" cy="1271.6" r="12.6" fill="#118ab2" stroke="#000" stroke-width="3.1"/>
<circle cx="2157.2" cy="1328.8" r="12.6" fill="#118ab2" stroke="#000" stroke-width="3.1"/>
<circle cx="1649.3" cy="1390.4" r="12.6" fill="#118ab2" stroke="#000" stroke-width="3.1"/>
<circle cx="1603.6" cy="1427.3" r="12.6" fill="#118ab2" stroke="#000" stroke-width="3.1"/>
<circle cx="1637.0" cy="1451.0" r="12.6" fill="#118ab2" stroke="#000" stroke-width="3.1"/>
<circle cx="1735.4" cy="1411.5" r="12.6" fill="#118ab2" stroke="#000" stroke-width="3.1"/>
<circle cx="1759.9" cy="1448.4" r="12.6" fill="#118ab2" stroke="#000" stroke-width="3.1"/>
<circle cx="1801.8" cy="1388.6" r="12.6" fill="#118ab2" stroke="#000" stroke-width="3.1"/>
<circle cx="1852.7" cy="1441.3" r="12.6" fill="#118ab2" stroke="#000" stroke-width="3.1"/>
<circle cx="1894.0" cy="1374.6" r="12.6" fill="#118ab2" stroke="#000" stroke-width="3.1"/>
<circle cx="1949.3" cy="1450.1" r="12.6" fill="#118ab2" stroke="#000" stroke-width="3.1"/>
<circle cx="2028.3" cy="1372.8" r="12.6" fill="#118ab2" stroke="#000" stroke-width="3.1"/>
<circle cx="1680.4" cy="1164.2" r="12.6" fill="#06d6a0" stroke="#000" stroke-width="3.1"/>
<circle cx="1771.4" cy="1207.1" r="12.6" fill="#06d6a0" stroke="#000" stroke-width="3.1"/>
<circle cx="1641.9" cy="1282.3" r="12.6" fill="#06d6a0" stroke="#000" stroke-width="3.1"/>
<circle cx="1603.6" cy="1295.4" r="12.6" fill="#06d6a0" stroke="#000" stroke-width="3.1"/>
<circle cx="1641.9" cy="1313.9" r="12.6" fill="#06d6a0" stroke="#000" stroke-width="3.1"/>
<circle cx="1618.0" cy="1320.9" r="12.6" fill="#06d6a0" stroke="#000" stroke-width="3.1"/>
<circle cx="1676.5" cy="1340.2" r="12.6" fill="#06d6a0" stroke="#000" stroke-width="3.1"/>
<circle cx="1514.9" cy="1327.1" r="12.6" fill="#06d6a0" stroke="#000" stroke-width="3.1"/>
<circle cx="1717.8" cy="1298.1" r="12.6" fill="#06d6a0" stroke="#000" stroke-width="3.1"/>
<circle cx="1781.0" cy="1254.2" r="12.6" fill="#06d6a0" stroke="#000" stroke-width="3.1"/>
<circle cx="1739.7" cy="1313.0" r="12.6" fill="#06d6a0" stroke="#000" stroke-width="3.1"/>
<circle cx="1820.2" cy="1245.4" r="12.6" fill="#06d6a0" stroke="#000" stroke-width="3.1"/>
<circle cx="1922.1" cy="1244.5" r="12.6" fill="#06d6a0" stroke="#000" stroke-width="3.1"/>
<circle cx="1886.1" cy="1294.6" r="12.6" fill="#06d6a0" stroke="#000" stroke-width="3.1"/>
<circle cx="1807.0" cy="1289.3" r="12.6" fill="#06d6a0" stroke="#000" stroke-width="3.1"/>
<circle cx="1835.1" cy="1293.7" r="12.6" fill="#06d6a0" stroke="#000" stroke-width="3.1"/>
<circle cx="1853.6" cy="1296.3" r="12.6" fill="#06d6a0" stroke="#000" stroke-width="3.1"/>
<circle cx="1826.3" cy="1324.4" r="12.6" fill="#06d6a0" stroke="#000" stroke-width="3.1"/>
<circle cx="1975.6" cy="1350.8" r="12.6" fill="#06d6a0" stroke="#000" stroke-width="3.1"/>
<circle cx="2005.5" cy="1298.1" r="12.6" fill="#06d6a0" stroke="#000" stroke-width="3.1"/>
<circle cx="2049.4" cy="1292.8" r="12.6" fill="#06d6a0" stroke="#000" stroke-width="3.1"/>
<circle cx="2095.1" cy="1329.7" r="12.6" fill="#06d6a0" stroke="#000" stroke-width="3.1"/>
<circle cx="2044.1" cy="1340.2" r="12.6" fill="#06d6a0" stroke="#000" stroke-width="3.1"/>
<circle cx="2074.0" cy="1326.2" r="12.6" fill="#06d6a0" stroke="#000" stroke-width="3.1"/>
<circle cx="2180.8" cy="1319.7" r="12.6" fill="#06d6a0" stroke="#000" stroke-width="3.1"/>
<circle cx="1637.0" cy="1361.4" r="12.6" fill="#06d6a0" stroke="#000" stroke-width="3.1"/>
<circle cx="1677.4" cy="1456.3" r="12.6" fill="#06d6a0" stroke="#000" stroke-width="3.1"/>
<circle cx="1704.6" cy="1370.2" r="12.6" fill="#06d6a0" stroke="#000" stroke-width="3.1"/>
<circle cx="1704.6" cy="1413.2" r="12.6" fill="#06d6a0" stroke="#000" stroke-width="3.1"/>
<circle cx="1731.8" cy="1388.6" r="12.6" fill="#06d6a0" stroke="#000" stroke-width="3.1"/>
<circle cx="1789.8" cy="1374.6" r="12.6" fill="#06d6a0" stroke="#000" stroke-width="3.1"/>
<circle cx="1756.4" cy="1413.2" r="12.6" fill="#06d6a0" stroke="#000" stroke-width="3.1"/>
<circle cx="1740.6" cy="1443.1" r="12.6" fill="#06d6a0" stroke="#000" stroke-width="3.1"/>
<circle cx="1838.6" cy="1438.7" r="12.6" fill="#06d6a0" stroke="#000" stroke-width="3.1"/>
<circle cx="1954.6" cy="1374.6" r="12.6" fill="#06d6a0" stroke="#000" stroke-width="3.1"/>
<circle cx="2180.8" cy="1386.3" r="12.6" fill="#06d6a0" stroke="#000" stroke-width="3.1"/>
<circle cx="1741.5" cy="1164.6" r="12.6" fill="#ffd166" stroke="#000" stroke-width="3.1"/>
<circle cx="1676.5" cy="1253.3" r="12.6" fill="#ffd166" stroke="#000" stroke-width="3.1"/>
<circle cx="1676.5" cy="1289.3" r="12.6" fill="#ffd166" stroke="#000" stroke-width="3.1"/>
<circle cx="1641.9" cy="1343.7" r="12.6" fill="#ffd166" stroke="#000" stroke-width="3.1"/>
<circle cx="1514.9" cy="1278.8" r="12.6" fill="#ffd166" stroke="#000" stroke-width="3.1"/>
<circle cx="1702.0" cy="1342.0" r="12.6" fill="#ffd166" stroke="#000" stroke-width="3.1"/>
<circle cx="1756.4" cy="1294.6" r="12.6" fill="#ffd166" stroke="#000" stroke-width="3.1"/>
<circle cx="1759.9" cy="1342.0" r="12.6" fill="#ffd166" stroke="#000" stroke-width="3.1"/>
<circle cx="1788.0" cy="1347.3" r="12.6" fill="#ffd166" stroke="#000" stroke-width="3.1"/>
<circle cx="1721.3" cy="1342.0" r="12.6" fill="#ffd166" stroke="#000" stroke-width="3.1"/>
<circle cx="1896.6" cy="1229.6" r="12.6" fill="#ffd166" stroke="#000" stroke-width="3.1"/>
<circle cx="1949.3" cy="1248.9" r="12.6" fill="#ffd166" stroke="#000" stroke-width="3.1"/>
<circle cx="1938.8" cy="1289.3" r="12.6" fill="#ffd166" stroke="#000" stroke-width="3.1"/>
<circle cx="1854.4" cy="1315.6" r="12.6" fill="#ffd166" stroke="#000" stroke-width="3.1"/>
<circle cx="1808.8" cy="1333.2" r="12.6" fill="#ffd166" stroke="#000" stroke-width="3.1"/>
<circle cx="1958.1" cy="1312.1" r="12.6" fill="#ffd166" stroke="#000" stroke-width="3.1"/>
<circle cx="1970.4" cy="1306.9" r="12.6" fill="#ffd166" stroke="#000" stroke-width="3.1"/>
<circle cx="1988.8" cy="1333.2" r="12.6" fill="#ffd166" stroke="#000" stroke-width="3.1"/>
<circle cx="2043.3" cy="1324.4" r="12.6" fill="#ffd166" stroke="#000" stroke-width="3.1"/>
<circle cx="2096.8" cy="1291.1" r="12.6" fill="#ffd166" stroke="#000" stroke-width="3.1"/>
<circle cx="1993.2" cy="1315.6" r="12.6" fill="#ffd166" stroke="#000" stroke-width="3.1"/>
<circle cx="2157.2" cy="1346.9" r="12.6" fill="#ffd166" stroke="#000" stroke-width="3.1"/>
<circle cx="2180.8" cy="1354.2" r="12.6" fill="#ffd166" stroke="#000" stroke-width="3.1"/>
<circle cx="1637.0" cy="1382.5" r="12.6" fill="#ffd166" stroke="#000" stroke-width="3.1"/>
<circle cx="1619.4" cy="1392.2" r="12.6" fill="#ffd166" stroke="#000" stroke-width="3.1"/>
<circle cx="1603.6" cy="1407.1" r="12.6" fill="#ffd166" stroke="#000" stroke-width="3.1"/>
<circle cx="1641.4" cy="1472.9" r="12.6" fill="#ffd166" stroke="#000" stroke-width="3.1"/>
<circle cx="1704.6" cy="1442.2" r="12.6" fill="#ffd166" stroke="#000" stroke-width="3.1"/>
<circle cx="1730.1" cy="1364.1" r="12.6" fill="#ffd166" stroke="#000" stroke-width="3.1"/>
<circle cx="1756.4" cy="1367.6" r="12.6" fill="#ffd166" stroke="#000" stroke-width="3.1"/>
<circle cx="1775.8" cy="1370.2" r="12.6" fill="#ffd166" stroke="#000" stroke-width="3.1"/>
<circle cx="1781.0" cy="1463.3" r="12.6" fill="#ffd166" stroke="#000" stroke-width="3.1"/>
<circle cx="1772.2" cy="1507.2" r="12.6" fill="#ffd166" stroke="#000" stroke-width="3.1"/>
<circle cx="1680.9" cy="1516.0" r="12.6" fill="#ffd166" stroke="#000" stroke-width="3.1"/>
<circle cx="1810.5" cy="1378.1" r="12.6" fill="#ffd166" stroke="#000" stroke-width="3.1"/>
<circle cx="1825.5" cy="1419.4" r="12.6" fill="#ffd166" stroke="#000" stroke-width="3.1"/>
<circle cx="1832.5" cy="1463.3" r="12.6" fill="#ffd166" stroke="#000" stroke-width="3.1"/>
<circle cx="1882.6" cy="1400.9" r="12.6" fill="#ffd166" stroke="#000" stroke-width="3.1"/>
<circle cx="1917.7" cy="1380.7" r="12.6" fill="#ffd166" stroke="#000" stroke-width="3.1"/>
<circle cx="1921.2" cy="1484.4" r="12.6" fill="#ffd166" stroke="#000" stroke-width="3.1"/>
<circle cx="1982.7" cy="1390.4" r="12.6" fill="#ffd166" stroke="#000" stroke-width="3.1"/>
<circle cx="1977.4" cy="1422.0" r="12.6" fill="#ffd166" stroke="#000" stroke-width="3.1"/>
<circle cx="2002.0" cy="1374.6" r="12.6" fill="#ffd166" stroke="#000" stroke-width="3.1"/>
<circle cx="2025.7" cy="1399.2" r="12.6" fill="#ffd166" stroke="#000" stroke-width="3.1"/>
<circle cx="2010.8" cy="1413.2" r="12.6" fill="#ffd166" stroke="#000" stroke-width="3.1"/>
<circle cx="2051.2" cy="1379.0" r="12.6" fill="#ffd166" stroke="#000" stroke-width="3.1"/>
<circle cx="2067.0" cy="1384.2" r="12.6" fill="#ffd166" stroke="#000" stroke-width="3.1"/>
<circle cx="2070.5" cy="1399.2" r="12.6" fill="#ffd166" stroke="#000" stroke-width="3.1"/>
<circle cx="2089.8" cy="1388.6" r="12.6" fill="#ffd166" stroke="#000" stroke-width="3.1"/>
<circle cx="2181.7" cy="1429.9" r="12.6" fill="#ffd166" stroke="#000" stroke-width="3.1"/>
<circle cx="1642.3" cy="1247.1" r="12.6" fill="#ef476f" stroke="#000" stroke-width="3.1"/>
<circle cx="1637.0" cy="1237.5" r="12.6" fill="#ef476f" stroke="#000" stroke-width="3.1"/>
<circle cx="1677.4" cy="1230.5" r="12.6" fill="#ef476f" stroke="#000" stroke-width="3.1"/>
<circle cx="1676.5" cy="1273.5" r="12.6" fill="#ef476f" stroke="#000" stroke-width="3.1"/>
<circle cx="1704.6" cy="1309.5" r="12.6" fill="#ef476f" stroke="#000" stroke-width="3.1"/>
<circle cx="1717.8" cy="1327.9" r="12.6" fill="#ef476f" stroke="#000" stroke-width="3.1"/>
<circle cx="1789.8" cy="1266.5" r="12.6" fill="#ef476f" stroke="#000" stroke-width="3.1"/>
<circle cx="1772.2" cy="1277.0" r="12.6" fill="#ef476f" stroke="#000" stroke-width="3.1"/>
<circle cx="1771.4" cy="1288.4" r="12.6" fill="#ef476f" stroke="#000" stroke-width="3.1"/>
<circle cx="1792.4" cy="1302.5" r="12.6" fill="#ef476f" stroke="#000" stroke-width="3.1"/>
<circle cx="1739.7" cy="1324.4" r="12.6" fill="#ef476f" stroke="#000" stroke-width="3.1"/>
<circle cx="1759.9" cy="1322.7" r="12.6" fill="#ef476f" stroke="#000" stroke-width="3.1"/>
<circle cx="1775.8" cy="1327.1" r="12.6" fill="#ef476f" stroke="#000" stroke-width="3.1"/>
<circle cx="1740.6" cy="1352.5" r="12.6" fill="#ef476f" stroke="#000" stroke-width="3.1"/>
<circle cx="1796.8" cy="1345.5" r="12.6" fill="#ef476f" stroke="#000" stroke-width="3.1"/>
<circle cx="1915.0" cy="1284.9" r="12.6" fill="#ef476f" stroke="#000" stroke-width="3.1"/>
<circle cx="1915.0" cy="1295.4" r="12.6" fill="#ef476f" stroke="#000" stroke-width="3.1"/>
<circle cx="1886.1" cy="1305.1" r="12.6" fill="#ef476f" stroke="#000" stroke-width="3.1"/>
<circle cx="1978.3" cy="1270.9" r="12.6" fill="#ef476f" stroke="#000" stroke-width="3.1"/>
<circle cx="1991.4" cy="1284.9" r="12.6" fill="#ef476f" stroke="#000" stroke-width="3.1"/>
<circle cx="1817.6" cy="1303.3" r="12.6" fill="#ef476f" stroke="#000" stroke-width="3.1"/>
<circle cx="1800.0" cy="1301.6" r="12.6" fill="#ef476f" stroke="#000" stroke-width="3.1"/>
<circle cx="1842.2" cy="1320.9" r="12.6" fill="#ef476f" stroke="#000" stroke-width="3.1"/>
<circle cx="1838.6" cy="1336.7" r="12.6" fill="#ef476f" stroke="#000" stroke-width="3.1"/>
<circle cx="1808.8" cy="1345.5" r="12.6" fill="#ef476f" stroke="#000" stroke-width="3.1"/>
<circle cx="1832.5" cy="1354.3" r="12.6" fill="#ef476f" stroke="#000" stroke-width="3.1"/>
<circle cx="1921.2" cy="1315.6" r="12.6" fill="#ef476f" stroke="#000" stroke-width="3.1"/>
<circle cx="1940.5" cy="1324.4" r="12.6" fill="#ef476f" stroke="#000" stroke-width="3.1"/>
<circle cx="1958.1" cy="1333.2" r="12.6" fill="#ef476f" stroke="#000" stroke-width="3.1"/>
<circle cx="1968.6" cy="1327.9" r="12.6" fill="#ef476f" stroke="#000" stroke-width="3.1"/>
<circle cx="1912.4" cy="1329.7" r="12.6" fill="#ef476f" stroke="#000" stroke-width="3.1"/>
<circle cx="1901.9" cy="1345.5" r="12.6" fill="#ef476f" stroke="#000" stroke-width="3.1"/>
<circle cx="1935.2" cy="1350.8" r="12.6" fill="#ef476f" stroke="#000" stroke-width="3.1"/>
<circle cx="2009.0" cy="1313.9" r="12.6" fill="#ef476f" stroke="#000" stroke-width="3.1"/>
<circle cx="2043.3" cy="1309.5" r="12.6" fill="#ef476f" stroke="#000" stroke-width="3.1"/>
<circle cx="2070.5" cy="1309.5" r="12.6" fill="#ef476f" stroke="#000" stroke-width="3.1"/>
<circle cx="2084.5" cy="1308.6" r="12.6" fill="#ef476f" stroke="#000" stroke-width="3.1"/>
<circle cx="2025.7" cy="1340.2" r="12.6" fill="#ef476f" stroke="#000" stroke-width="3.1"/>
<circle cx="2067.0" cy="1342.0" r="12.6" fill="#ef476f" stroke="#000" stroke-width="3.1"/>
<circle cx="2081.0" cy="1345.5" r="12.6" fill="#ef476f" stroke="#000" stroke-width="3.1"/>
<circle cx="2049.4" cy="1356.0" r="12.6" fill="#ef476f" stroke="#000" stroke-width="3.1"/>
<circle cx="2180.8" cy="1343.3" r="12.6" fill="#ef476f" stroke="#000" stroke-width="3.1"/>
<circle cx="2372.2" cy="1345.1" r="12.6" fill="#ef476f" stroke="#000" stroke-width="3.1"/>
<circle cx="1603.6" cy="1370.2" r="12.6" fill="#ef476f" stroke="#000" stroke-width="3.1"/>
<circle cx="1641.4" cy="1429.9" r="12.6" fill="#ef476f" stroke="#000" stroke-width="3.1"/>
<circle cx="1514.9" cy="1392.2" r="12.6" fill="#ef476f" stroke="#000" stroke-width="3.1"/>
<circle cx="1703.7" cy="1404.4" r="12.6" fill="#ef476f" stroke="#000" stroke-width="3.1"/>
<circle cx="1702.9" cy="1394.8" r="12.6" fill="#ef476f" stroke="#000" stroke-width="3.1"/>
<circle cx="1759.9" cy="1388.6" r="12.6" fill="#ef476f" stroke="#000" stroke-width="3.1"/>
<circle cx="1754.7" cy="1401.8" r="12.6" fill="#ef476f" stroke="#000" stroke-width="3.1"/>
<circle cx="1781.0" cy="1395.7" r="12.6" fill="#ef476f" stroke="#000" stroke-width="3.1"/>
<circle cx="1755.6" cy="1432.6" r="12.6" fill="#ef476f" stroke="#000" stroke-width="3.1"/>
<circle cx="1731.8" cy="1465.0" r="12.6" fill="#ef476f" stroke="#000" stroke-width="3.1"/>
<circle cx="1680.9" cy="1536.2" r="12.6" fill="#ef476f" stroke="#000" stroke-width="3.1"/>
<circle cx="1618.6" cy="1541.4" r="12.6" fill="#ef476f" stroke="#000" stroke-width="3.1"/>
<circle cx="1832.5" cy="1364.1" r="12.6" fill="#ef476f" stroke="#000" stroke-width="3.1"/>
<circle cx="1826.3" cy="1373.7" r="12.6" fill="#ef476f" stroke="#000" stroke-width="3.1"/>
<circle cx="1821.1" cy="1391.3" r="12.6" fill="#ef476f" stroke="#000" stroke-width="3.1"/>
<circle cx="1837.8" cy="1394.8" r="12.6" fill="#ef476f" stroke="#000" stroke-width="3.1"/>
<circle cx="1854.4" cy="1395.7" r="12.6" fill="#ef476f" stroke="#000" stroke-width="3.1"/>
<circle cx="1896.6" cy="1393.0" r="12.6" fill="#ef476f" stroke="#000" stroke-width="3.1"/>
<circle cx="1902.7" cy="1412.4" r="12.6" fill="#ef476f" stroke="#000" stroke-width="3.1"/>
<circle cx="1927.3" cy="1373.7" r="12.6" fill="#ef476f" stroke="#000" stroke-width="3.1"/>
<circle cx="1949.3" cy="1368.4" r="12.6" fill="#ef476f" stroke="#000" stroke-width="3.1"/>
<circle cx="1927.3" cy="1409.7" r="12.6" fill="#ef476f" stroke="#000" stroke-width="3.1"/>
<circle cx="1951.1" cy="1416.7" r="12.6" fill="#ef476f" stroke="#000" stroke-width="3.1"/>
<circle cx="1951.1" cy="1406.2" r="12.6" fill="#ef476f" stroke="#000" stroke-width="3.1"/>
<circle cx="1933.5" cy="1435.2" r="12.6" fill="#ef476f" stroke="#000" stroke-width="3.1"/>
<circle cx="1916.8" cy="1451.0" r="12.6" fill="#ef476f" stroke="#000" stroke-width="3.1"/>
<circle cx="1982.7" cy="1372.0" r="12.6" fill="#ef476f" stroke="#000" stroke-width="3.1"/>
<circle cx="1995.0" cy="1428.2" r="12.6" fill="#ef476f" stroke="#000" stroke-width="3.1"/>
<circle cx="2006.4" cy="1446.6" r="12.6" fill="#ef476f" stroke="#000" stroke-width="3.1"/>
<circle cx="1988.8" cy="1470.3" r="12.6" fill="#ef476f" stroke="#000" stroke-width="3.1"/>
<circle cx="2016.0" cy="1371.1" r="12.6" fill="#ef476f" stroke="#000" stroke-width="3.1"/>
<circle cx="2051.2" cy="1405.3" r="12.6" fill="#ef476f" stroke="#000" stroke-width="3.1"/>
<circle cx="2052.0" cy="1361.4" r="12.6" fill="#ef476f" stroke="#000" stroke-width="3.1"/>
<circle cx="2093.3" cy="1412.4" r="12.6" fill="#ef476f" stroke="#000" stroke-width="3.1"/>
<circle cx="2089.8" cy="1360.5" r="12.6" fill="#ef476f" stroke="#000" stroke-width="3.1"/>
<circle cx="2157.2" cy="1365.4" r="12.6" fill="#ef476f" stroke="#000" stroke-width="3.1"/>
<circle cx="2180.8" cy="1396.3" r="12.6" fill="#ef476f" stroke="#000" stroke-width="3.1"/>
<text transform="translate(1329.8,1522.5) rotate(-90)" x="-3.6" y="0" font-size="53.1" font-weight="bold" textLength="358.8" lengthAdjust="spacingAndGlyphs">Relative Error</text>
<text x="1687.6" y="1958.0" font-size="50.3" font-weight="bold" textLength="541.1" lengthAdjust="spacingAndGlyphs" >Abundance (fmol/µL)</text>
<text x="1284.0" y="911.0" font-size="75.4" font-weight="bold" textLength="51.8" lengthAdjust="spacingAndGlyphs" >D</text>
<text x="1528.4" y="967.0" font-size="61.2" font-weight="bold" textLength="347.4" lengthAdjust="spacingAndGlyphs" >Normalized</text>
<circle cx="1757.0" cy="1762" r="11.7" fill="#ef476f"/>
<text x="1789.2" y="1777.8" font-size="57.8" font-weight="bold" textLength="61.7" lengthAdjust="spacingAndGlyphs" >D1</text>
<circle cx="1889.1" cy="1762" r="11.7" fill="#ffd166"/>
<text x="1920.4" y="1777.8" font-size="57.0" font-weight="bold" textLength="70.1" lengthAdjust="spacingAndGlyphs" >D2</text>
<circle cx="2021.5" cy="1762" r="11.7" fill="#06d6a0"/>
<text x="2053.0" y="1777.8" font-size="57.0" font-weight="bold" textLength="69.6" lengthAdjust="spacingAndGlyphs" >D3</text>
<circle cx="2153.5" cy="1762" r="11.7" fill="#118ab2"/>
<text x="2185.9" y="1777.8" font-size="57.8" font-weight="bold" textLength="67.0" lengthAdjust="spacingAndGlyphs" >D4</text>
<circle cx="2286.2" cy="1762" r="11.7" fill="#073b4c"/>
<text x="2318.5" y="1777.8" font-size="57.8" font-weight="bold" textLength="69.2" lengthAdjust="spacingAndGlyphs" >D5</text>
<text x="84.7" y="2048.5" font-size="74.6" font-weight="bold" textLength="46.9" lengthAdjust="spacingAndGlyphs" >E</text>
<line x1="710.3" y1="2036" x2="710.3" y2="2937.2" stroke="#d3d3d3" stroke-width="6"/>
<line x1="281" y1="2486.6" x2="1150" y2="2486.6" stroke="#d2d2d2" stroke-width="6" stroke-linecap="round" stroke-dasharray="0 19.75"/>
<path d="M389.6,2368.5 C389.7,2368.8 390.1,2368.6 390.2,2370.0 C390.3,2371.4 390.3,2372.8 390.4,2377.0 C390.4,2381.2 390.4,2386.2 390.4,2395.0 C390.4,2403.8 390.0,2421.7 390.4,2430.0 C390.7,2438.3 391.9,2440.0 392.4,2445.0 C392.9,2450.0 393.2,2454.2 393.4,2460.0 C393.5,2465.8 393.9,2474.2 393.4,2480.0 C392.9,2485.8 390.9,2484.2 390.4,2495.0 C389.9,2505.8 390.2,2534.2 390.4,2545.0 C390.5,2555.8 390.9,2555.0 391.4,2560.0 C391.9,2565.0 393.0,2566.7 393.4,2575.0 C393.7,2583.3 393.7,2601.7 393.4,2610.0 C393.0,2618.3 391.5,2620.8 391.4,2625.0 C391.2,2629.2 391.5,2630.8 392.4,2635.0 C393.2,2639.2 395.9,2644.2 396.4,2650.0 C396.9,2655.8 395.3,2663.3 395.4,2670.0 C395.4,2676.7 396.5,2684.2 396.9,2690.0 C397.2,2695.8 396.9,2700.7 397.4,2705.0 C397.8,2709.3 397.8,2712.2 399.4,2716.0 C401.0,2719.8 405.1,2724.0 407.0,2728.0 C408.8,2732.0 409.1,2736.0 410.4,2740.0 C411.6,2744.0 412.7,2748.0 414.4,2752.0 C416.0,2756.0 418.5,2760.0 420.4,2764.0 C422.2,2768.0 423.8,2772.0 425.4,2776.0 C426.9,2780.0 427.5,2784.0 429.9,2788.0 C432.2,2792.0 436.1,2796.0 439.4,2800.0 C442.6,2804.0 448.9,2808.3 449.4,2812.0 C449.8,2815.7 445.4,2819.0 441.9,2822.0 C438.4,2825.0 431.8,2826.7 428.4,2830.0 C424.9,2833.3 422.7,2838.0 421.4,2842.0 C420.0,2846.0 421.7,2850.0 420.4,2854.0 C419.0,2858.0 415.9,2862.0 413.1,2866.0 C410.2,2870.0 406.1,2874.0 403.4,2878.0 C400.6,2882.0 397.7,2885.8 396.4,2890.0 C395.0,2894.2 395.5,2898.2 395.4,2903.0 C395.2,2907.8 396.2,2915.3 395.4,2919.0 C394.5,2922.7 391.2,2923.8 390.2,2925.0 C389.2,2926.2 389.8,2926.5 389.6,2926.5 C389.4,2926.5 390.0,2926.2 389.0,2925.0 C388.0,2923.8 384.7,2922.7 383.9,2919.0 C383.0,2915.3 384.0,2907.8 383.9,2903.0 C383.7,2898.2 384.2,2894.2 382.9,2890.0 C381.5,2885.8 378.6,2882.0 375.9,2878.0 C373.1,2874.0 369.0,2870.0 366.2,2866.0 C363.3,2862.0 360.2,2858.0 358.9,2854.0 C357.5,2850.0 359.2,2846.0 357.9,2842.0 C356.5,2838.0 354.3,2833.3 350.9,2830.0 C347.4,2826.7 340.9,2825.0 337.4,2822.0 C333.9,2819.0 329.4,2815.7 329.9,2812.0 C330.3,2808.3 336.6,2804.0 339.9,2800.0 C343.1,2796.0 347.0,2792.0 349.4,2788.0 C351.7,2784.0 352.3,2780.0 353.9,2776.0 C355.4,2772.0 357.0,2768.0 358.9,2764.0 C360.7,2760.0 363.2,2756.0 364.9,2752.0 C366.5,2748.0 367.6,2744.0 368.9,2740.0 C370.1,2736.0 370.4,2732.0 372.2,2728.0 C374.1,2724.0 378.2,2719.8 379.9,2716.0 C381.5,2712.2 381.4,2709.3 381.9,2705.0 C382.3,2700.7 382.0,2695.8 382.4,2690.0 C382.7,2684.2 383.8,2676.7 383.9,2670.0 C383.9,2663.3 382.4,2655.8 382.9,2650.0 C383.4,2644.2 386.0,2639.2 386.9,2635.0 C387.7,2630.8 388.0,2629.2 387.9,2625.0 C387.7,2620.8 386.2,2618.3 385.9,2610.0 C385.5,2601.7 385.5,2583.3 385.9,2575.0 C386.2,2566.7 387.4,2565.0 387.9,2560.0 C388.4,2555.0 388.7,2555.8 388.9,2545.0 C389.0,2534.2 389.4,2505.8 388.9,2495.0 C388.4,2484.2 386.4,2485.8 385.9,2480.0 C385.4,2474.2 385.7,2465.8 385.9,2460.0 C386.0,2454.2 386.4,2450.0 386.9,2445.0 C387.4,2440.0 388.5,2438.3 388.9,2430.0 C389.2,2421.7 388.9,2403.8 388.9,2395.0 C388.9,2386.2 388.8,2381.2 388.9,2377.0 C388.9,2372.8 388.9,2371.4 389.0,2370.0 C389.1,2368.6 389.5,2368.8 389.6,2368.5 Z" fill="#b8b8ff" stroke="#5a5aff" stroke-width="8.5" stroke-linejoin="round"/>
<path d="M582.4,2314.5 C582.5,2314.8 582.9,2314.6 583.0,2316.0 C583.1,2317.4 583.1,2309.0 583.1,2323.0 C583.2,2337.0 583.1,2373.8 583.1,2400.0 C583.1,2426.2 583.0,2462.5 583.1,2480.0 C583.3,2497.5 583.6,2499.5 584.1,2505.0 C584.6,2510.5 585.5,2509.2 586.1,2513.0 C586.8,2516.8 587.6,2523.3 587.9,2528.0 C588.1,2532.7 588.2,2535.7 587.9,2541.0 C587.5,2546.3 586.1,2553.8 585.6,2560.0 C585.2,2566.2 585.2,2570.3 585.1,2578.0 C585.1,2585.7 584.6,2596.8 585.1,2606.0 C585.6,2615.2 587.5,2622.3 588.1,2633.0 C588.8,2643.7 588.8,2659.2 589.1,2670.0 C589.5,2680.8 590.0,2691.3 590.1,2698.0 C590.3,2704.7 589.6,2706.0 590.1,2710.0 C590.6,2714.0 591.8,2718.0 593.1,2722.0 C594.5,2726.0 596.1,2730.0 598.1,2734.0 C600.1,2738.0 603.0,2742.0 605.1,2746.0 C607.3,2750.0 609.5,2754.0 611.1,2758.0 C612.8,2762.0 614.1,2766.0 615.1,2770.0 C616.1,2774.0 616.4,2778.0 617.1,2782.0 C617.9,2786.0 617.8,2790.0 619.6,2794.0 C621.5,2798.0 625.7,2802.0 628.1,2806.0 C630.6,2810.0 633.0,2813.0 634.1,2818.0 C635.3,2823.0 634.6,2831.0 635.1,2836.0 C635.7,2841.0 636.8,2844.0 637.6,2848.0 C638.5,2852.0 640.9,2856.0 640.1,2860.0 C639.4,2864.0 636.3,2868.0 633.1,2872.0 C630.0,2876.0 625.4,2880.0 621.1,2884.0 C616.9,2888.0 611.5,2892.0 607.6,2896.0 C603.8,2900.0 600.7,2904.0 598.1,2908.0 C595.6,2912.0 594.0,2916.3 592.1,2920.0 C590.3,2923.7 588.7,2927.7 587.1,2930.0 C585.6,2932.3 583.8,2933.1 583.0,2934.0 C582.2,2934.9 582.6,2935.5 582.4,2935.5 C582.2,2935.5 582.6,2934.9 581.8,2934.0 C581.0,2933.1 579.2,2932.3 577.6,2930.0 C576.1,2927.7 574.5,2923.7 572.6,2920.0 C570.8,2916.3 569.2,2912.0 566.6,2908.0 C564.1,2904.0 561.0,2900.0 557.1,2896.0 C553.3,2892.0 547.9,2888.0 543.6,2884.0 C539.4,2880.0 534.8,2876.0 531.6,2872.0 C528.5,2868.0 525.4,2864.0 524.6,2860.0 C523.9,2856.0 526.3,2852.0 527.1,2848.0 C528.0,2844.0 529.1,2841.0 529.6,2836.0 C530.2,2831.0 529.5,2823.0 530.6,2818.0 C531.8,2813.0 534.2,2810.0 536.6,2806.0 C539.1,2802.0 543.3,2798.0 545.1,2794.0 C547.0,2790.0 546.9,2786.0 547.6,2782.0 C548.4,2778.0 548.6,2774.0 549.6,2770.0 C550.6,2766.0 552.0,2762.0 553.6,2758.0 C555.3,2754.0 557.5,2750.0 559.6,2746.0 C561.8,2742.0 564.6,2738.0 566.6,2734.0 C568.6,2730.0 570.3,2726.0 571.6,2722.0 C573.0,2718.0 574.1,2714.0 574.6,2710.0 C575.1,2706.0 574.5,2704.7 574.6,2698.0 C574.8,2691.3 575.3,2680.8 575.6,2670.0 C576.0,2659.2 576.0,2643.7 576.6,2633.0 C577.3,2622.3 579.1,2615.2 579.6,2606.0 C580.1,2596.8 579.7,2585.7 579.6,2578.0 C579.6,2570.3 579.6,2566.2 579.1,2560.0 C578.7,2553.8 577.3,2546.3 576.9,2541.0 C576.6,2535.7 576.7,2532.7 576.9,2528.0 C577.2,2523.3 578.0,2516.8 578.6,2513.0 C579.3,2509.2 580.1,2510.5 580.6,2505.0 C581.1,2499.5 581.5,2497.5 581.6,2480.0 C581.8,2462.5 581.6,2426.2 581.6,2400.0 C581.6,2373.8 581.6,2337.0 581.6,2323.0 C581.7,2309.0 581.7,2317.4 581.8,2316.0 C581.9,2314.6 582.3,2314.8 582.4,2314.5 Z" fill="#8c8cf8" stroke="#0000ff" stroke-width="8.5" stroke-linejoin="round"/>
<path d="M838.4,2243.5 C838.5,2243.8 838.7,2243.6 839.0,2245.0 C839.3,2246.4 839.9,2249.5 840.1,2252.0 C840.4,2254.5 840.3,2254.3 840.4,2260.0 C840.4,2265.7 840.4,2278.5 840.4,2286.0 C840.3,2293.5 839.7,2298.8 839.9,2305.0 C840.0,2311.2 841.2,2315.3 841.2,2323.0 C841.2,2330.7 840.2,2341.7 839.9,2351.0 C839.5,2360.3 839.1,2371.3 839.4,2379.0 C839.8,2386.7 840.8,2390.8 841.8,2397.0 C842.7,2403.2 843.9,2409.8 844.9,2416.0 C846.0,2422.2 847.1,2429.3 848.1,2434.0 C849.1,2438.7 850.4,2438.3 850.9,2444.0 C851.5,2449.7 850.9,2462.0 851.5,2468.0 C852.1,2474.0 853.3,2476.0 854.5,2480.0 C855.8,2484.0 857.5,2488.0 859.1,2492.0 C860.8,2496.0 862.7,2500.0 864.1,2504.0 C865.6,2508.0 866.5,2512.0 867.9,2516.0 C869.2,2520.0 870.9,2524.0 872.1,2528.0 C873.4,2532.0 874.4,2534.0 875.1,2540.0 C875.9,2546.0 876.8,2558.0 876.9,2564.0 C876.9,2570.0 875.4,2572.0 875.6,2576.0 C875.9,2580.0 877.1,2584.0 878.6,2588.0 C880.1,2592.0 882.6,2596.0 884.6,2600.0 C886.6,2604.0 888.4,2608.0 890.6,2612.0 C892.9,2616.0 896.6,2620.0 897.9,2624.0 C899.3,2628.0 899.2,2632.0 898.5,2636.0 C897.9,2640.0 895.8,2644.0 894.1,2648.0 C892.5,2652.0 890.9,2656.0 888.5,2660.0 C886.2,2664.0 882.1,2668.0 879.9,2672.0 C877.6,2676.0 876.3,2680.2 875.1,2684.0 C874.0,2687.8 874.6,2690.2 873.1,2695.0 C871.6,2699.8 868.3,2707.2 866.1,2713.0 C864.0,2718.8 862.6,2724.2 860.1,2730.0 C857.6,2735.8 853.9,2742.2 851.1,2748.0 C848.4,2753.8 844.9,2759.2 843.4,2765.0 C841.8,2770.8 842.1,2777.2 842.0,2783.0 C842.0,2788.8 842.9,2794.2 842.9,2800.0 C843.0,2805.8 843.1,2813.8 842.4,2818.0 C841.8,2822.2 839.7,2823.6 839.0,2825.0 C838.3,2826.4 838.6,2826.5 838.4,2826.5 C838.2,2826.5 838.5,2826.4 837.8,2825.0 C837.1,2823.6 835.0,2822.2 834.4,2818.0 C833.7,2813.8 833.8,2805.8 833.9,2800.0 C833.9,2794.2 834.8,2788.8 834.8,2783.0 C834.7,2777.2 835.0,2770.8 833.4,2765.0 C831.9,2759.2 828.4,2753.8 825.6,2748.0 C822.9,2742.2 819.1,2735.8 816.6,2730.0 C814.1,2724.2 812.8,2718.8 810.6,2713.0 C808.5,2707.2 805.1,2699.8 803.6,2695.0 C802.1,2690.2 802.8,2687.8 801.6,2684.0 C800.5,2680.2 799.2,2676.0 796.9,2672.0 C794.7,2668.0 790.6,2664.0 788.2,2660.0 C785.9,2656.0 784.3,2652.0 782.6,2648.0 C781.0,2644.0 778.9,2640.0 778.2,2636.0 C777.6,2632.0 777.5,2628.0 778.9,2624.0 C780.2,2620.0 783.9,2616.0 786.1,2612.0 C788.4,2608.0 790.1,2604.0 792.1,2600.0 C794.1,2596.0 796.6,2592.0 798.1,2588.0 C799.6,2584.0 800.9,2580.0 801.1,2576.0 C801.4,2572.0 799.9,2570.0 799.9,2564.0 C800.0,2558.0 800.9,2546.0 801.6,2540.0 C802.4,2534.0 803.4,2532.0 804.6,2528.0 C805.9,2524.0 807.6,2520.0 808.9,2516.0 C810.3,2512.0 811.2,2508.0 812.6,2504.0 C814.1,2500.0 816.0,2496.0 817.6,2492.0 C819.2,2488.0 821.0,2484.0 822.2,2480.0 C823.5,2476.0 824.6,2474.0 825.2,2468.0 C825.9,2462.0 825.3,2449.7 825.9,2444.0 C826.4,2438.3 827.6,2438.7 828.6,2434.0 C829.6,2429.3 830.8,2422.2 831.9,2416.0 C832.9,2409.8 834.1,2403.2 835.0,2397.0 C836.0,2390.8 837.0,2386.7 837.4,2379.0 C837.7,2371.3 837.2,2360.3 836.9,2351.0 C836.6,2341.7 835.5,2330.7 835.5,2323.0 C835.5,2315.3 836.8,2311.2 836.9,2305.0 C837.1,2298.8 836.5,2293.5 836.4,2286.0 C836.4,2278.5 836.4,2265.7 836.4,2260.0 C836.5,2254.3 836.4,2254.5 836.6,2252.0 C836.9,2249.5 837.5,2246.4 837.8,2245.0 C838.1,2243.6 838.3,2243.8 838.4,2243.5 Z" fill="#fde0e0" stroke="#ff8080" stroke-width="8.5" stroke-linejoin="round"/>
<path d="M1030.6,2505.5 C1030.7,2505.8 1030.8,2505.6 1031.2,2507.0 C1031.6,2508.4 1032.5,2510.5 1032.8,2514.0 C1033.2,2517.5 1033.3,2521.2 1033.3,2528.0 C1033.3,2534.8 1033.2,2547.3 1032.8,2555.0 C1032.5,2562.7 1031.7,2567.8 1031.4,2574.0 C1031.2,2580.2 1031.1,2585.8 1031.4,2592.0 C1031.8,2598.2 1032.8,2604.8 1033.3,2611.0 C1033.9,2617.2 1034.3,2622.8 1034.6,2629.0 C1034.9,2635.2 1035.2,2641.8 1035.1,2648.0 C1035.1,2654.2 1034.3,2660.7 1034.2,2666.0 C1034.2,2671.3 1034.2,2675.7 1034.8,2680.0 C1035.3,2684.3 1036.1,2688.0 1037.3,2692.0 C1038.5,2696.0 1039.6,2698.0 1041.9,2704.0 C1044.3,2710.0 1048.1,2722.0 1051.3,2728.0 C1054.6,2734.0 1058.5,2736.0 1061.3,2740.0 C1064.2,2744.0 1066.3,2748.0 1068.3,2752.0 C1070.3,2756.0 1073.2,2760.0 1073.3,2764.0 C1073.5,2768.0 1071.2,2772.0 1069.3,2776.0 C1067.5,2780.0 1061.9,2784.0 1062.3,2788.0 C1062.8,2792.0 1068.4,2796.0 1072.0,2800.0 C1075.7,2804.0 1080.9,2808.0 1084.0,2812.0 C1087.2,2816.0 1090.8,2820.0 1090.8,2824.0 C1090.8,2828.0 1087.0,2832.0 1084.0,2836.0 C1081.1,2840.0 1076.3,2844.0 1073.3,2848.0 C1070.4,2852.0 1068.0,2856.0 1066.3,2860.0 C1064.7,2864.0 1065.0,2868.0 1063.3,2872.0 C1061.7,2876.0 1058.7,2880.0 1056.3,2884.0 C1054.0,2888.0 1051.8,2892.0 1049.3,2896.0 C1046.9,2900.0 1044.1,2904.0 1041.9,2908.0 C1039.8,2912.0 1037.9,2916.7 1036.3,2920.0 C1034.8,2923.3 1033.2,2926.2 1032.3,2928.0 C1031.5,2929.8 1031.5,2930.2 1031.2,2931.0 C1030.9,2931.8 1030.8,2932.5 1030.6,2932.5 C1030.4,2932.5 1030.3,2931.8 1030.0,2931.0 C1029.7,2930.2 1029.7,2929.8 1028.8,2928.0 C1028.0,2926.2 1026.4,2923.3 1024.8,2920.0 C1023.2,2916.7 1021.4,2912.0 1019.2,2908.0 C1017.1,2904.0 1014.2,2900.0 1011.8,2896.0 C1009.4,2892.0 1007.2,2888.0 1004.8,2884.0 C1002.5,2880.0 999.5,2876.0 997.8,2872.0 C996.2,2868.0 996.5,2864.0 994.8,2860.0 C993.2,2856.0 990.8,2852.0 987.8,2848.0 C984.9,2844.0 980.0,2840.0 977.1,2836.0 C974.2,2832.0 970.4,2828.0 970.4,2824.0 C970.4,2820.0 974.0,2816.0 977.1,2812.0 C980.3,2808.0 985.5,2804.0 989.1,2800.0 C992.8,2796.0 998.4,2792.0 998.8,2788.0 C999.3,2784.0 993.7,2780.0 991.8,2776.0 C990.0,2772.0 987.7,2768.0 987.8,2764.0 C988.0,2760.0 990.8,2756.0 992.8,2752.0 C994.8,2748.0 997.0,2744.0 999.8,2740.0 C1002.7,2736.0 1006.6,2734.0 1009.8,2728.0 C1013.1,2722.0 1016.9,2710.0 1019.2,2704.0 C1021.6,2698.0 1022.6,2696.0 1023.8,2692.0 C1025.0,2688.0 1025.9,2684.3 1026.4,2680.0 C1027.0,2675.7 1027.0,2671.3 1026.9,2666.0 C1026.9,2660.7 1026.1,2654.2 1026.0,2648.0 C1026.0,2641.8 1026.2,2635.2 1026.5,2629.0 C1026.8,2622.8 1027.3,2617.2 1027.8,2611.0 C1028.4,2604.8 1029.4,2598.2 1029.8,2592.0 C1030.1,2585.8 1030.0,2580.2 1029.8,2574.0 C1029.5,2567.8 1028.7,2562.7 1028.3,2555.0 C1028.0,2547.3 1027.8,2534.8 1027.8,2528.0 C1027.8,2521.2 1028.0,2517.5 1028.3,2514.0 C1028.7,2510.5 1029.6,2508.4 1030.0,2507.0 C1030.4,2505.6 1030.5,2505.8 1030.6,2505.5 Z" fill="#ff9e9e" stroke="#ff4545" stroke-width="8.5" stroke-linejoin="round"/>
<circle cx="389.5" cy="2376.5" r="8.5" fill="#0000c4"/>
<circle cx="389.5" cy="2459.8" r="8.5" fill="#0000c4"/>
<circle cx="389.5" cy="2480.7" r="8.5" fill="#0000c4"/>
<circle cx="389.5" cy="2579.0" r="8.5" fill="#0000c4"/>
<circle cx="389.5" cy="2604.5" r="8.5" fill="#0000c4"/>
<circle cx="386.4" cy="2650.8" r="8.5" fill="#0000c4"/>
<circle cx="393.4" cy="2649.2" r="8.5" fill="#0000c4"/>
<circle cx="389.5" cy="2676.0" r="8.5" fill="#0000c4"/>
<circle cx="386.4" cy="2689.3" r="8.5" fill="#0000c4"/>
<circle cx="393.4" cy="2691.0" r="8.5" fill="#0000c4"/>
<circle cx="389.6" cy="2681.2" r="8.5" fill="#0000c4"/>
<circle cx="383.6" cy="2689.6" r="8.5" fill="#0000c4"/>
<circle cx="393.2" cy="2692.0" r="8.5" fill="#0000c4"/>
<circle cx="393.2" cy="2711.9" r="8.5" fill="#0000c4"/>
<circle cx="407.0" cy="2723.3" r="8.5" fill="#0000c4"/>
<circle cx="371.5" cy="2734.1" r="8.5" fill="#0000c4"/>
<circle cx="380.0" cy="2730.5" r="8.5" fill="#0000c4"/>
<circle cx="387.2" cy="2736.5" r="8.5" fill="#0000c4"/>
<circle cx="381.2" cy="2745.0" r="8.5" fill="#0000c4"/>
<circle cx="389.6" cy="2747.4" r="8.5" fill="#0000c4"/>
<circle cx="406.4" cy="2738.9" r="8.5" fill="#0000c4"/>
<circle cx="399.2" cy="2743.8" r="8.5" fill="#0000c4"/>
<circle cx="413.6" cy="2752.2" r="8.5" fill="#0000c4"/>
<circle cx="372.7" cy="2761.8" r="8.5" fill="#0000c4"/>
<circle cx="392.0" cy="2753.4" r="8.5" fill="#0000c4"/>
<circle cx="359.5" cy="2772.6" r="8.5" fill="#0000c4"/>
<circle cx="369.1" cy="2771.4" r="8.5" fill="#0000c4"/>
<circle cx="363.1" cy="2781.1" r="8.5" fill="#0000c4"/>
<circle cx="354.7" cy="2789.5" r="8.5" fill="#0000c4"/>
<circle cx="370.3" cy="2788.3" r="8.5" fill="#0000c4"/>
<circle cx="382.4" cy="2784.7" r="8.5" fill="#0000c4"/>
<circle cx="394.4" cy="2771.4" r="8.5" fill="#0000c4"/>
<circle cx="406.4" cy="2766.6" r="8.5" fill="#0000c4"/>
<circle cx="420.9" cy="2769.0" r="8.5" fill="#0000c4"/>
<circle cx="419.7" cy="2782.3" r="8.5" fill="#0000c4"/>
<circle cx="401.6" cy="2779.8" r="8.5" fill="#0000c4"/>
<circle cx="392.0" cy="2785.9" r="8.5" fill="#0000c4"/>
<circle cx="411.2" cy="2790.7" r="8.5" fill="#0000c4"/>
<circle cx="382.4" cy="2795.5" r="8.5" fill="#0000c4"/>
<circle cx="399.2" cy="2793.1" r="8.5" fill="#0000c4"/>
<circle cx="365.5" cy="2799.1" r="8.5" fill="#0000c4"/>
<circle cx="330.6" cy="2813.5" r="8.5" fill="#0000c4"/>
<circle cx="342.7" cy="2814.7" r="8.5" fill="#0000c4"/>
<circle cx="354.7" cy="2814.7" r="8.5" fill="#0000c4"/>
<circle cx="366.7" cy="2813.5" r="8.5" fill="#0000c4"/>
<circle cx="378.8" cy="2813.5" r="8.5" fill="#0000c4"/>
<circle cx="390.8" cy="2813.5" r="8.5" fill="#0000c4"/>
<circle cx="402.8" cy="2813.5" r="8.5" fill="#0000c4"/>
<circle cx="414.8" cy="2814.7" r="8.5" fill="#0000c4"/>
<circle cx="426.9" cy="2813.5" r="8.5" fill="#0000c4"/>
<circle cx="438.9" cy="2812.3" r="8.5" fill="#0000c4"/>
<circle cx="448.5" cy="2813.5" r="8.5" fill="#0000c4"/>
<circle cx="345.1" cy="2822.0" r="8.5" fill="#0000c4"/>
<circle cx="363.1" cy="2823.2" r="8.5" fill="#0000c4"/>
<circle cx="387.2" cy="2822.0" r="8.5" fill="#0000c4"/>
<circle cx="411.2" cy="2822.0" r="8.5" fill="#0000c4"/>
<circle cx="426.9" cy="2825.6" r="8.5" fill="#0000c4"/>
<circle cx="371.5" cy="2836.4" r="8.5" fill="#0000c4"/>
<circle cx="384.8" cy="2840.0" r="8.5" fill="#0000c4"/>
<circle cx="399.2" cy="2837.6" r="8.5" fill="#0000c4"/>
<circle cx="393.2" cy="2848.4" r="8.5" fill="#0000c4"/>
<circle cx="382.4" cy="2850.8" r="8.5" fill="#0000c4"/>
<circle cx="365.5" cy="2855.6" r="8.5" fill="#0000c4"/>
<circle cx="358.3" cy="2865.3" r="8.5" fill="#0000c4"/>
<circle cx="411.2" cy="2854.4" r="8.5" fill="#0000c4"/>
<circle cx="420.9" cy="2856.8" r="8.5" fill="#0000c4"/>
<circle cx="413.6" cy="2865.3" r="8.5" fill="#0000c4"/>
<circle cx="377.6" cy="2860.4" r="8.5" fill="#0000c4"/>
<circle cx="389.6" cy="2862.9" r="8.5" fill="#0000c4"/>
<circle cx="396.8" cy="2874.9" r="8.5" fill="#0000c4"/>
<circle cx="387.2" cy="2884.5" r="8.5" fill="#0000c4"/>
<circle cx="386.0" cy="2903.8" r="8.5" fill="#0000c4"/>
<circle cx="387.2" cy="2919.4" r="8.5" fill="#0000c4"/>
<circle cx="394.4" cy="2914.6" r="8.5" fill="#0000c4"/>
<line x1="340.9" y1="2805" x2="440.7" y2="2805" stroke="#000" stroke-width="6"/>
<line x1="364.4" y1="2758.8" x2="414.8" y2="2758.8" stroke="#000" stroke-width="6" stroke-linecap="round" stroke-dasharray="0 19.5"/>
<line x1="355.0" y1="2832" x2="424.2" y2="2832" stroke="#000" stroke-width="6" stroke-linecap="round" stroke-dasharray="0 19.5"/>
<circle cx="582.2" cy="2324.0" r="8.5" fill="#000080"/>
<circle cx="577.2" cy="2539.0" r="8.5" fill="#000080"/>
<circle cx="586.5" cy="2545.4" r="8.5" fill="#000080"/>
<circle cx="582.2" cy="2584.3" r="8.5" fill="#000080"/>
<circle cx="582.2" cy="2632.4" r="8.5" fill="#000080"/>
<circle cx="577.2" cy="2648.2" r="8.5" fill="#000080"/>
<circle cx="586.5" cy="2652.8" r="8.5" fill="#000080"/>
<circle cx="582.2" cy="2686.0" r="8.5" fill="#000080"/>
<circle cx="591.0" cy="2696.0" r="8.5" fill="#000080"/>
<circle cx="582.0" cy="2687.2" r="8.5" fill="#000080"/>
<circle cx="591.6" cy="2698.6" r="8.5" fill="#000080"/>
<circle cx="582.0" cy="2705.9" r="8.5" fill="#000080"/>
<circle cx="582.0" cy="2723.3" r="8.5" fill="#000080"/>
<circle cx="572.3" cy="2736.5" r="8.5" fill="#000080"/>
<circle cx="583.2" cy="2738.9" r="8.5" fill="#000080"/>
<circle cx="553.1" cy="2750.9" r="8.5" fill="#000080"/>
<circle cx="562.7" cy="2747.3" r="8.5" fill="#000080"/>
<circle cx="582.0" cy="2753.4" r="8.5" fill="#000080"/>
<circle cx="591.6" cy="2759.4" r="8.5" fill="#000080"/>
<circle cx="609.6" cy="2758.2" r="8.5" fill="#000080"/>
<circle cx="620.4" cy="2757.0" r="8.5" fill="#000080"/>
<circle cx="543.5" cy="2769.0" r="8.5" fill="#000080"/>
<circle cx="562.7" cy="2766.6" r="8.5" fill="#000080"/>
<circle cx="577.1" cy="2771.4" r="8.5" fill="#000080"/>
<circle cx="598.8" cy="2769.0" r="8.5" fill="#000080"/>
<circle cx="610.8" cy="2777.4" r="8.5" fill="#000080"/>
<circle cx="553.1" cy="2782.2" r="8.5" fill="#000080"/>
<circle cx="568.7" cy="2778.6" r="8.5" fill="#000080"/>
<circle cx="584.4" cy="2783.4" r="8.5" fill="#000080"/>
<circle cx="594.0" cy="2788.2" r="8.5" fill="#000080"/>
<circle cx="604.8" cy="2785.8" r="8.5" fill="#000080"/>
<circle cx="553.1" cy="2799.0" r="8.5" fill="#000080"/>
<circle cx="565.1" cy="2801.5" r="8.5" fill="#000080"/>
<circle cx="572.3" cy="2805.1" r="8.5" fill="#000080"/>
<circle cx="543.5" cy="2806.3" r="8.5" fill="#000080"/>
<circle cx="601.2" cy="2799.0" r="8.5" fill="#000080"/>
<circle cx="610.8" cy="2795.4" r="8.5" fill="#000080"/>
<circle cx="620.4" cy="2807.5" r="8.5" fill="#000080"/>
<circle cx="591.6" cy="2812.3" r="8.5" fill="#000080"/>
<circle cx="608.4" cy="2809.9" r="8.5" fill="#000080"/>
<circle cx="630.1" cy="2818.3" r="8.5" fill="#000080"/>
<circle cx="532.7" cy="2820.7" r="8.5" fill="#000080"/>
<circle cx="544.7" cy="2819.5" r="8.5" fill="#000080"/>
<circle cx="556.7" cy="2818.3" r="8.5" fill="#000080"/>
<circle cx="572.3" cy="2819.5" r="8.5" fill="#000080"/>
<circle cx="583.2" cy="2818.3" r="8.5" fill="#000080"/>
<circle cx="596.4" cy="2817.1" r="8.5" fill="#000080"/>
<circle cx="613.2" cy="2818.3" r="8.5" fill="#000080"/>
<circle cx="553.1" cy="2831.5" r="8.5" fill="#000080"/>
<circle cx="572.3" cy="2836.3" r="8.5" fill="#000080"/>
<circle cx="591.6" cy="2831.5" r="8.5" fill="#000080"/>
<circle cx="607.2" cy="2830.3" r="8.5" fill="#000080"/>
<circle cx="620.4" cy="2836.3" r="8.5" fill="#000080"/>
<circle cx="533.9" cy="2842.3" r="8.5" fill="#000080"/>
<circle cx="524.2" cy="2854.4" r="8.5" fill="#000080"/>
<circle cx="538.7" cy="2853.2" r="8.5" fill="#000080"/>
<circle cx="553.1" cy="2849.6" r="8.5" fill="#000080"/>
<circle cx="562.7" cy="2848.3" r="8.5" fill="#000080"/>
<circle cx="582.0" cy="2847.1" r="8.5" fill="#000080"/>
<circle cx="610.8" cy="2850.8" r="8.5" fill="#000080"/>
<circle cx="624.0" cy="2854.4" r="8.5" fill="#000080"/>
<circle cx="638.5" cy="2852.0" r="8.5" fill="#000080"/>
<circle cx="524.2" cy="2867.6" r="8.5" fill="#000080"/>
<circle cx="541.1" cy="2865.2" r="8.5" fill="#000080"/>
<circle cx="557.9" cy="2864.0" r="8.5" fill="#000080"/>
<circle cx="572.3" cy="2862.8" r="8.5" fill="#000080"/>
<circle cx="591.6" cy="2862.8" r="8.5" fill="#000080"/>
<circle cx="609.6" cy="2862.8" r="8.5" fill="#000080"/>
<circle cx="625.2" cy="2864.0" r="8.5" fill="#000080"/>
<circle cx="639.7" cy="2870.0" r="8.5" fill="#000080"/>
<circle cx="542.3" cy="2874.8" r="8.5" fill="#000080"/>
<circle cx="555.5" cy="2877.2" r="8.5" fill="#000080"/>
<circle cx="569.9" cy="2877.2" r="8.5" fill="#000080"/>
<circle cx="582.0" cy="2872.4" r="8.5" fill="#000080"/>
<circle cx="596.4" cy="2877.2" r="8.5" fill="#000080"/>
<circle cx="610.8" cy="2878.4" r="8.5" fill="#000080"/>
<circle cx="586.8" cy="2886.8" r="8.5" fill="#000080"/>
<circle cx="598.8" cy="2894.0" r="8.5" fill="#000080"/>
<circle cx="572.3" cy="2900.1" r="8.5" fill="#000080"/>
<circle cx="591.6" cy="2904.9" r="8.5" fill="#000080"/>
<circle cx="577.1" cy="2926.5" r="8.5" fill="#000080"/>
<circle cx="586.8" cy="2924.1" r="8.5" fill="#000080"/>
<line x1="536.3" y1="2823" x2="628.3" y2="2823" stroke="#000" stroke-width="6"/>
<line x1="553.0" y1="2769" x2="611.8" y2="2769" stroke="#000" stroke-width="6" stroke-linecap="round" stroke-dasharray="0 19.5"/>
<line x1="529.3" y1="2862.8" x2="635.5" y2="2862.8" stroke="#000" stroke-width="6" stroke-linecap="round" stroke-dasharray="0 19.5"/>
<circle cx="838.3" cy="2252.5" r="8.5" fill="#ff0000"/>
<circle cx="838.3" cy="2327.4" r="8.5" fill="#ff0000"/>
<circle cx="838.3" cy="2415.3" r="8.5" fill="#ff0000"/>
<circle cx="826.3" cy="2439.8" r="8.5" fill="#ff0000"/>
<circle cx="838.4" cy="2438.6" r="8.5" fill="#ff0000"/>
<circle cx="850.4" cy="2448.9" r="8.5" fill="#ff0000"/>
<circle cx="838.4" cy="2459.7" r="8.5" fill="#ff0000"/>
<circle cx="826.3" cy="2473.5" r="8.5" fill="#ff0000"/>
<circle cx="838.4" cy="2485.0" r="8.5" fill="#ff0000"/>
<circle cx="814.9" cy="2495.8" r="8.5" fill="#ff0000"/>
<circle cx="826.3" cy="2506.6" r="8.5" fill="#ff0000"/>
<circle cx="838.4" cy="2504.8" r="8.5" fill="#ff0000"/>
<circle cx="850.4" cy="2504.8" r="8.5" fill="#ff0000"/>
<circle cx="861.2" cy="2509.0" r="8.5" fill="#ff0000"/>
<circle cx="814.9" cy="2512.0" r="8.5" fill="#ff0000"/>
<circle cx="826.3" cy="2523.4" r="8.5" fill="#ff0000"/>
<circle cx="850.4" cy="2522.8" r="8.5" fill="#ff0000"/>
<circle cx="861.2" cy="2528.9" r="8.5" fill="#ff0000"/>
<circle cx="814.9" cy="2530.1" r="8.5" fill="#ff0000"/>
<circle cx="792.1" cy="2543.3" r="8.5" fill="#ff0000"/>
<circle cx="814.9" cy="2545.1" r="8.5" fill="#ff0000"/>
<circle cx="826.3" cy="2548.1" r="8.5" fill="#ff0000"/>
<circle cx="838.4" cy="2549.3" r="8.5" fill="#ff0000"/>
<circle cx="850.4" cy="2545.1" r="8.5" fill="#ff0000"/>
<circle cx="861.2" cy="2546.3" r="8.5" fill="#ff0000"/>
<circle cx="873.3" cy="2552.3" r="8.5" fill="#ff0000"/>
<circle cx="803.5" cy="2552.3" r="8.5" fill="#ff0000"/>
<circle cx="838.4" cy="2563.1" r="8.5" fill="#ff0000"/>
<circle cx="850.4" cy="2560.7" r="8.5" fill="#ff0000"/>
<circle cx="861.2" cy="2561.9" r="8.5" fill="#ff0000"/>
<circle cx="814.9" cy="2568.0" r="8.5" fill="#ff0000"/>
<circle cx="803.5" cy="2579.4" r="8.5" fill="#ff0000"/>
<circle cx="872.1" cy="2581.8" r="8.5" fill="#ff0000"/>
<circle cx="814.9" cy="2588.4" r="8.5" fill="#ff0000"/>
<circle cx="826.3" cy="2588.4" r="8.5" fill="#ff0000"/>
<circle cx="838.4" cy="2587.8" r="8.5" fill="#ff0000"/>
<circle cx="849.2" cy="2588.4" r="8.5" fill="#ff0000"/>
<circle cx="860.6" cy="2594.4" r="8.5" fill="#ff0000"/>
<circle cx="803.5" cy="2607.7" r="8.5" fill="#ff0000"/>
<circle cx="814.9" cy="2604.0" r="8.5" fill="#ff0000"/>
<circle cx="826.3" cy="2612.5" r="8.5" fill="#ff0000"/>
<circle cx="838.4" cy="2605.8" r="8.5" fill="#ff0000"/>
<circle cx="849.2" cy="2607.7" r="8.5" fill="#ff0000"/>
<circle cx="861.2" cy="2607.7" r="8.5" fill="#ff0000"/>
<circle cx="873.3" cy="2610.1" r="8.5" fill="#ff0000"/>
<circle cx="814.9" cy="2618.5" r="8.5" fill="#ff0000"/>
<circle cx="780.6" cy="2624.5" r="8.5" fill="#ff0000"/>
<circle cx="792.7" cy="2629.3" r="8.5" fill="#ff0000"/>
<circle cx="803.5" cy="2632.9" r="8.5" fill="#ff0000"/>
<circle cx="826.3" cy="2635.3" r="8.5" fill="#ff0000"/>
<circle cx="838.4" cy="2636.5" r="8.5" fill="#ff0000"/>
<circle cx="849.2" cy="2641.3" r="8.5" fill="#ff0000"/>
<circle cx="861.2" cy="2625.7" r="8.5" fill="#ff0000"/>
<circle cx="873.3" cy="2630.5" r="8.5" fill="#ff0000"/>
<circle cx="884.1" cy="2636.5" r="8.5" fill="#ff0000"/>
<circle cx="896.1" cy="2626.9" r="8.5" fill="#ff0000"/>
<circle cx="780.6" cy="2642.5" r="8.5" fill="#ff0000"/>
<circle cx="792.7" cy="2644.9" r="8.5" fill="#ff0000"/>
<circle cx="814.9" cy="2642.5" r="8.5" fill="#ff0000"/>
<circle cx="838.4" cy="2642.5" r="8.5" fill="#ff0000"/>
<circle cx="861.2" cy="2643.7" r="8.5" fill="#ff0000"/>
<circle cx="873.3" cy="2643.7" r="8.5" fill="#ff0000"/>
<circle cx="896.1" cy="2642.5" r="8.5" fill="#ff0000"/>
<circle cx="803.5" cy="2660.6" r="8.5" fill="#ff0000"/>
<circle cx="814.9" cy="2659.4" r="8.5" fill="#ff0000"/>
<circle cx="838.4" cy="2655.8" r="8.5" fill="#ff0000"/>
<circle cx="849.2" cy="2660.6" r="8.5" fill="#ff0000"/>
<circle cx="861.2" cy="2663.0" r="8.5" fill="#ff0000"/>
<circle cx="873.3" cy="2660.6" r="8.5" fill="#ff0000"/>
<circle cx="838.4" cy="2672.6" r="8.5" fill="#ff0000"/>
<circle cx="849.2" cy="2675.0" r="8.5" fill="#ff0000"/>
<circle cx="814.9" cy="2678.6" r="8.5" fill="#ff0000"/>
<circle cx="861.2" cy="2679.8" r="8.5" fill="#ff0000"/>
<circle cx="815.1" cy="2678.9" r="8.5" fill="#ff0000"/>
<circle cx="837.0" cy="2672.3" r="8.5" fill="#ff0000"/>
<circle cx="846.7" cy="2673.2" r="8.5" fill="#ff0000"/>
<circle cx="852.8" cy="2680.2" r="8.5" fill="#ff0000"/>
<circle cx="861.6" cy="2681.1" r="8.5" fill="#ff0000"/>
<circle cx="837.9" cy="2687.2" r="8.5" fill="#ff0000"/>
<circle cx="848.4" cy="2686.3" r="8.5" fill="#ff0000"/>
<circle cx="802.8" cy="2698.6" r="8.5" fill="#ff0000"/>
<circle cx="815.1" cy="2698.6" r="8.5" fill="#ff0000"/>
<circle cx="826.5" cy="2702.2" r="8.5" fill="#ff0000"/>
<circle cx="838.8" cy="2702.2" r="8.5" fill="#ff0000"/>
<circle cx="860.7" cy="2698.6" r="8.5" fill="#ff0000"/>
<circle cx="872.1" cy="2694.7" r="8.5" fill="#ff0000"/>
<circle cx="850.2" cy="2718.0" r="8.5" fill="#ff0000"/>
<circle cx="815.1" cy="2728.1" r="8.5" fill="#ff0000"/>
<circle cx="826.5" cy="2735.5" r="8.5" fill="#ff0000"/>
<circle cx="838.8" cy="2730.3" r="8.5" fill="#ff0000"/>
<circle cx="850.2" cy="2732.9" r="8.5" fill="#ff0000"/>
<circle cx="861.6" cy="2732.9" r="8.5" fill="#ff0000"/>
<circle cx="837.9" cy="2746.1" r="8.5" fill="#ff0000"/>
<circle cx="838.3" cy="2802.3" r="8.5" fill="#ff0000"/>
<circle cx="838.3" cy="2818.1" r="8.5" fill="#ff0000"/>
<line x1="792" y1="2613" x2="884.7" y2="2613" stroke="#000" stroke-width="6"/>
<line x1="804.2" y1="2545.7" x2="872.6" y2="2545.7" stroke="#000" stroke-width="6" stroke-linecap="round" stroke-dasharray="0 19.5"/>
<line x1="792.6" y1="2661.8" x2="884.2" y2="2661.8" stroke="#000" stroke-width="6" stroke-linecap="round" stroke-dasharray="0 19.5"/>
<circle cx="1030.4" cy="2514.3" r="8.5" fill="#a00000"/>
<circle cx="1030.4" cy="2543.5" r="8.5" fill="#a00000"/>
<circle cx="1030.4" cy="2624.9" r="8.5" fill="#a00000"/>
<circle cx="1021.6" cy="2647.0" r="8.5" fill="#a00000"/>
<circle cx="1030.4" cy="2658.2" r="8.5" fill="#a00000"/>
<circle cx="1039.2" cy="2696.2" r="8.5" fill="#a00000"/>
<circle cx="1030.8" cy="2700.4" r="8.5" fill="#a00000"/>
<circle cx="1039.2" cy="2711.3" r="8.5" fill="#a00000"/>
<circle cx="1022.4" cy="2722.1" r="8.5" fill="#a00000"/>
<circle cx="1039.2" cy="2724.5" r="8.5" fill="#a00000"/>
<circle cx="1022.4" cy="2735.3" r="8.5" fill="#a00000"/>
<circle cx="1032.0" cy="2740.1" r="8.5" fill="#a00000"/>
<circle cx="1046.4" cy="2742.6" r="8.5" fill="#a00000"/>
<circle cx="997.1" cy="2747.4" r="8.5" fill="#a00000"/>
<circle cx="1006.7" cy="2747.4" r="8.5" fill="#a00000"/>
<circle cx="1039.2" cy="2748.6" r="8.5" fill="#a00000"/>
<circle cx="1058.4" cy="2757.0" r="8.5" fill="#a00000"/>
<circle cx="1065.7" cy="2759.4" r="8.5" fill="#a00000"/>
<circle cx="988.7" cy="2766.6" r="8.5" fill="#a00000"/>
<circle cx="1000.7" cy="2769.0" r="8.5" fill="#a00000"/>
<circle cx="1017.6" cy="2766.6" r="8.5" fill="#a00000"/>
<circle cx="1027.2" cy="2771.4" r="8.5" fill="#a00000"/>
<circle cx="1039.2" cy="2764.2" r="8.5" fill="#a00000"/>
<circle cx="1048.8" cy="2771.4" r="8.5" fill="#a00000"/>
<circle cx="1063.3" cy="2775.0" r="8.5" fill="#a00000"/>
<circle cx="1006.7" cy="2778.6" r="8.5" fill="#a00000"/>
<circle cx="1017.6" cy="2783.4" r="8.5" fill="#a00000"/>
<circle cx="1027.2" cy="2778.6" r="8.5" fill="#a00000"/>
<circle cx="1039.2" cy="2773.8" r="8.5" fill="#a00000"/>
<circle cx="1046.4" cy="2790.7" r="8.5" fill="#a00000"/>
<circle cx="1038.0" cy="2795.5" r="8.5" fill="#a00000"/>
<circle cx="973.0" cy="2806.3" r="8.5" fill="#a00000"/>
<circle cx="988.7" cy="2802.7" r="8.5" fill="#a00000"/>
<circle cx="1005.5" cy="2803.9" r="8.5" fill="#a00000"/>
<circle cx="1017.6" cy="2807.5" r="8.5" fill="#a00000"/>
<circle cx="1044.0" cy="2811.1" r="8.5" fill="#a00000"/>
<circle cx="1053.6" cy="2813.5" r="8.5" fill="#a00000"/>
<circle cx="971.8" cy="2830.4" r="8.5" fill="#a00000"/>
<circle cx="982.7" cy="2824.3" r="8.5" fill="#a00000"/>
<circle cx="994.7" cy="2828.0" r="8.5" fill="#a00000"/>
<circle cx="1006.7" cy="2821.9" r="8.5" fill="#a00000"/>
<circle cx="1018.8" cy="2826.8" r="8.5" fill="#a00000"/>
<circle cx="1032.0" cy="2824.3" r="8.5" fill="#a00000"/>
<circle cx="1044.0" cy="2824.3" r="8.5" fill="#a00000"/>
<circle cx="1056.0" cy="2828.0" r="8.5" fill="#a00000"/>
<circle cx="1070.5" cy="2831.6" r="8.5" fill="#a00000"/>
<circle cx="1088.5" cy="2823.1" r="8.5" fill="#a00000"/>
<circle cx="994.7" cy="2840.0" r="8.5" fill="#a00000"/>
<circle cx="1020.0" cy="2846.0" r="8.5" fill="#a00000"/>
<circle cx="1039.2" cy="2847.2" r="8.5" fill="#a00000"/>
<circle cx="1054.8" cy="2844.8" r="8.5" fill="#a00000"/>
<circle cx="1005.5" cy="2856.8" r="8.5" fill="#a00000"/>
<circle cx="1022.4" cy="2862.8" r="8.5" fill="#a00000"/>
<circle cx="1036.8" cy="2860.4" r="8.5" fill="#a00000"/>
<circle cx="1051.2" cy="2861.6" r="8.5" fill="#a00000"/>
<circle cx="1063.3" cy="2870.1" r="8.5" fill="#a00000"/>
<circle cx="1005.5" cy="2872.5" r="8.5" fill="#a00000"/>
<circle cx="1017.6" cy="2877.3" r="8.5" fill="#a00000"/>
<circle cx="1032.0" cy="2872.5" r="8.5" fill="#a00000"/>
<circle cx="997.1" cy="2883.3" r="8.5" fill="#a00000"/>
<circle cx="1013.9" cy="2892.9" r="8.5" fill="#a00000"/>
<circle cx="1024.8" cy="2884.5" r="8.5" fill="#a00000"/>
<circle cx="1046.4" cy="2892.9" r="8.5" fill="#a00000"/>
<circle cx="1063.3" cy="2884.5" r="8.5" fill="#a00000"/>
<circle cx="1056.0" cy="2879.7" r="8.5" fill="#a00000"/>
<circle cx="1029.6" cy="2904.9" r="8.5" fill="#a00000"/>
<circle cx="1039.2" cy="2904.9" r="8.5" fill="#a00000"/>
<circle cx="1030.8" cy="2924.2" r="8.5" fill="#a00000"/>
<line x1="982.7" y1="2814" x2="1078.3" y2="2814" stroke="#000" stroke-width="6"/>
<line x1="992.5" y1="2760" x2="1068.7" y2="2760" stroke="#000" stroke-width="6" stroke-linecap="round" stroke-dasharray="0 19.5"/>
<line x1="988.5" y1="2845.4" x2="1072.7" y2="2845.4" stroke="#000" stroke-width="6" stroke-linecap="round" stroke-dasharray="0 19.5"/>
<rect x="262" y="2036" width="898" height="901.2" fill="none" stroke="#000" stroke-width="6"/>
<line x1="234" y1="2036.0" x2="262" y2="2036.0" stroke="#000" stroke-width="6"/>
<text x="173.3" y="2054.0" font-size="50.6" font-weight="bold" textLength="55.6" lengthAdjust="spacingAndGlyphs" >40</text>
<line x1="234" y1="2261.3" x2="262" y2="2261.3" stroke="#000" stroke-width="6"/>
<text x="173.3" y="2279.3" font-size="50.6" font-weight="bold" textLength="55.6" lengthAdjust="spacingAndGlyphs" >30</text>
<line x1="234" y1="2486.6" x2="262" y2="2486.6" stroke="#000" stroke-width="6"/>
<text x="173.3" y="2504.6" font-size="50.6" font-weight="bold" textLength="55.6" lengthAdjust="spacingAndGlyphs" >20</text>
<line x1="234" y1="2711.9" x2="262" y2="2711.9" stroke="#000" stroke-width="6"/>
<text x="173.3" y="2729.9" font-size="50.6" font-weight="bold" textLength="55.6" lengthAdjust="spacingAndGlyphs" >10</text>
<line x1="234" y1="2937.2" x2="262" y2="2937.2" stroke="#000" stroke-width="6"/>
<text x="201.0" y="2955.2" font-size="50.6" font-weight="bold" textLength="27.8" lengthAdjust="spacingAndGlyphs" >0</text>
<text x="324.5" y="2102.3" font-size="54.2" font-weight="bold" textLength="320.1" lengthAdjust="spacingAndGlyphs" >Neat Plasma</text>
<text x="871.5" y="2102.3" font-size="56.1" font-weight="bold" textLength="118.2" lengthAdjust="spacingAndGlyphs" >BCD</text>
<text transform="translate(143.2,2570.3) rotate(-90)" x="-2.2" y="0" font-size="55.7" font-weight="bold" textLength="174.1" lengthAdjust="spacingAndGlyphs">CV (%)</text>
<text x="342.1" y="2998.7" font-size="44.8" font-weight="bold" textLength="92.5" lengthAdjust="spacingAndGlyphs" >Raw</text>
<text x="461.0" y="2998.7" font-size="42.6" font-weight="bold" textLength="244.7" lengthAdjust="spacingAndGlyphs" >Normalized</text>
<text x="790.6" y="2998.7" font-size="44.8" font-weight="bold" textLength="93.3" lengthAdjust="spacingAndGlyphs" >Raw</text>
<text x="908.0" y="2998.7" font-size="42.6" font-weight="bold" textLength="247.0" lengthAdjust="spacingAndGlyphs" >Normalized</text>
<text x="1287.4" y="2048.5" font-size="74.6" font-weight="bold" textLength="43.1" lengthAdjust="spacingAndGlyphs" >F</text>
<line x1="1654.0" y1="2056" x2="1654.0" y2="2929.6" stroke="#d4d4d4" stroke-width="5.6" stroke-linecap="round" stroke-dasharray="0 19.7"/>
<line x1="1518.5" y1="2787.3" x2="2393.5" y2="2787.3" stroke="#d4d4d4" stroke-width="5.6" stroke-linecap="round" stroke-dasharray="0 19.7"/>
<line x1="1803.5" y1="2056" x2="1803.5" y2="2929.6" stroke="#d4d4d4" stroke-width="5.6" stroke-linecap="round" stroke-dasharray="0 19.7"/>
<line x1="1518.5" y1="2637.1" x2="2393.5" y2="2637.1" stroke="#d4d4d4" stroke-width="5.6" stroke-linecap="round" stroke-dasharray="0 19.7"/>
<line x1="1953.0" y1="2056" x2="1953.0" y2="2929.6" stroke="#d4d4d4" stroke-width="5.6" stroke-linecap="round" stroke-dasharray="0 19.7"/>
<line x1="1518.5" y1="2486.8" x2="2393.5" y2="2486.8" stroke="#d4d4d4" stroke-width="5.6" stroke-linecap="round" stroke-dasharray="0 19.7"/>
<line x1="2102.5" y1="2056" x2="2102.5" y2="2929.6" stroke="#d4d4d4" stroke-width="5.6" stroke-linecap="round" stroke-dasharray="0 19.7"/>
<line x1="1518.5" y1="2336.5" x2="2393.5" y2="2336.5" stroke="#d4d4d4" stroke-width="5.6" stroke-linecap="round" stroke-dasharray="0 19.7"/>
<line x1="2252.0" y1="2056" x2="2252.0" y2="2929.6" stroke="#d4d4d4" stroke-width="5.6" stroke-linecap="round" stroke-dasharray="0 19.7"/>
<line x1="1518.5" y1="2186.3" x2="2393.5" y2="2186.3" stroke="#d4d4d4" stroke-width="5.6" stroke-linecap="round" stroke-dasharray="0 19.7"/>
<rect x="2108" y="2793" width="290" height="142" fill="#fff"/>
<line x1="2352" y1="2086" x2="1606" y2="2829" stroke="#000" stroke-width="5.7" stroke-linecap="round" stroke-dasharray="9.8 23"/>
<rect x="1504.5" y="2036" width="897.0" height="901.6" fill="none" stroke="#000" stroke-width="6"/>
<circle cx="1611.6" cy="2827.1" r="10" fill="#42eeae" stroke="#000" stroke-width="3"/>
<circle cx="1605.4" cy="2840.4" r="10" fill="#42eeae" stroke="#000" stroke-width="3"/>
<circle cx="1662.4" cy="2766.1" r="10" fill="#42eeae" stroke="#000" stroke-width="3"/>
<circle cx="1683.8" cy="2764.0" r="10" fill="#42eeae" stroke="#000" stroke-width="3"/>
<circle cx="1704.2" cy="2743.7" r="10" fill="#42eeae" stroke="#000" stroke-width="3"/>
<circle cx="1700.1" cy="2739.6" r="10" fill="#42eeae" stroke="#000" stroke-width="3"/>
<circle cx="1720.5" cy="2802.7" r="10" fill="#42eeae" stroke="#000" stroke-width="3"/>
<circle cx="1723.5" cy="2808.8" r="10" fill="#42eeae" stroke="#000" stroke-width="3"/>
<circle cx="1728.6" cy="2713.1" r="10" fill="#42eeae" stroke="#000" stroke-width="3"/>
<circle cx="1737.8" cy="2704.0" r="10" fill="#42eeae" stroke="#000" stroke-width="3"/>
<circle cx="1743.9" cy="2726.4" r="10" fill="#42eeae" stroke="#000" stroke-width="3"/>
<circle cx="1755.1" cy="2739.6" r="10" fill="#42eeae" stroke="#000" stroke-width="3"/>
<circle cx="1765.2" cy="2767.1" r="10" fill="#42eeae" stroke="#000" stroke-width="3"/>
<circle cx="1743.9" cy="2688.7" r="10" fill="#42eeae" stroke="#000" stroke-width="3"/>
<circle cx="1767.3" cy="2681.6" r="10" fill="#42eeae" stroke="#000" stroke-width="3"/>
<circle cx="1774.4" cy="2671.4" r="10" fill="#42eeae" stroke="#000" stroke-width="3"/>
<circle cx="1767.3" cy="2669.4" r="10" fill="#42eeae" stroke="#000" stroke-width="3"/>
<circle cx="1757.1" cy="2683.6" r="10" fill="#42eeae" stroke="#000" stroke-width="3"/>
<circle cx="1759.1" cy="2702.9" r="10" fill="#42eeae" stroke="#000" stroke-width="3"/>
<circle cx="1756.1" cy="2657.1" r="10" fill="#42eeae" stroke="#000" stroke-width="3"/>
<circle cx="1762.2" cy="2648.0" r="10" fill="#42eeae" stroke="#000" stroke-width="3"/>
<circle cx="1761.2" cy="2609.3" r="10" fill="#42eeae" stroke="#000" stroke-width="3"/>
<circle cx="1789.7" cy="2652.1" r="10" fill="#42eeae" stroke="#000" stroke-width="3"/>
<circle cx="1802.9" cy="2663.3" r="10" fill="#42eeae" stroke="#000" stroke-width="3"/>
<circle cx="1806.0" cy="2636.8" r="10" fill="#42eeae" stroke="#000" stroke-width="3"/>
<circle cx="1811.0" cy="2627.6" r="10" fill="#42eeae" stroke="#000" stroke-width="3"/>
<circle cx="1826.3" cy="2623.6" r="10" fill="#42eeae" stroke="#000" stroke-width="3"/>
<circle cx="1821.2" cy="2615.4" r="10" fill="#42eeae" stroke="#000" stroke-width="3"/>
<circle cx="1831.4" cy="2609.3" r="10" fill="#42eeae" stroke="#000" stroke-width="3"/>
<circle cx="1840.6" cy="2604.2" r="10" fill="#42eeae" stroke="#000" stroke-width="3"/>
<circle cx="1838.5" cy="2599.1" r="10" fill="#42eeae" stroke="#000" stroke-width="3"/>
<circle cx="1853.8" cy="2592.0" r="10" fill="#42eeae" stroke="#000" stroke-width="3"/>
<circle cx="1825.3" cy="2803.7" r="10" fill="#42eeae" stroke="#000" stroke-width="3"/>
<circle cx="1791.7" cy="2540.1" r="10" fill="#42eeae" stroke="#000" stroke-width="3"/>
<circle cx="1844.6" cy="2528.9" r="10" fill="#42eeae" stroke="#000" stroke-width="3"/>
<circle cx="1837.5" cy="2525.9" r="10" fill="#42eeae" stroke="#000" stroke-width="3"/>
<circle cx="1845.6" cy="2509.6" r="10" fill="#42eeae" stroke="#000" stroke-width="3"/>
<circle cx="1877.2" cy="2557.4" r="10" fill="#42eeae" stroke="#000" stroke-width="3"/>
<circle cx="1949.6" cy="2348.3" r="10" fill="#42eeae" stroke="#000" stroke-width="3"/>
<circle cx="2004.3" cy="2376.5" r="10" fill="#42eeae" stroke="#000" stroke-width="3"/>
<circle cx="2036.8" cy="2372.0" r="10" fill="#42eeae" stroke="#000" stroke-width="3"/>
<circle cx="2052.1" cy="2391.9" r="10" fill="#42eeae" stroke="#000" stroke-width="3"/>
<circle cx="2044.1" cy="2388.5" r="10" fill="#42eeae" stroke="#000" stroke-width="3"/>
<circle cx="2040.1" cy="2400.0" r="10" fill="#42eeae" stroke="#000" stroke-width="3"/>
<circle cx="2016.3" cy="2439.2" r="10" fill="#42eeae" stroke="#000" stroke-width="3"/>
<circle cx="2017.3" cy="2433.3" r="10" fill="#42eeae" stroke="#000" stroke-width="3"/>
<circle cx="2014.3" cy="2417.0" r="10" fill="#42eeae" stroke="#000" stroke-width="3"/>
<circle cx="1987.4" cy="2451.2" r="10" fill="#42eeae" stroke="#000" stroke-width="3"/>
<circle cx="1983.4" cy="2449.2" r="10" fill="#42eeae" stroke="#000" stroke-width="3"/>
<circle cx="1977.4" cy="2463.1" r="10" fill="#42eeae" stroke="#000" stroke-width="3"/>
<circle cx="1975.1" cy="2454.2" r="10" fill="#42eeae" stroke="#000" stroke-width="3"/>
<circle cx="1963.5" cy="2474.1" r="10" fill="#42eeae" stroke="#000" stroke-width="3"/>
<circle cx="1939.6" cy="2495.0" r="10" fill="#42eeae" stroke="#000" stroke-width="3"/>
<circle cx="1943.6" cy="2486.0" r="10" fill="#42eeae" stroke="#000" stroke-width="3"/>
<circle cx="1954.6" cy="2491.0" r="10" fill="#42eeae" stroke="#000" stroke-width="3"/>
<circle cx="1946.6" cy="2505.9" r="10" fill="#42eeae" stroke="#000" stroke-width="3"/>
<circle cx="1967.5" cy="2509.9" r="10" fill="#42eeae" stroke="#000" stroke-width="3"/>
<circle cx="1959.5" cy="2526.8" r="10" fill="#42eeae" stroke="#000" stroke-width="3"/>
<circle cx="1981.4" cy="2492.0" r="10" fill="#42eeae" stroke="#000" stroke-width="3"/>
<circle cx="1929.7" cy="2515.9" r="10" fill="#42eeae" stroke="#000" stroke-width="3"/>
<circle cx="1917.7" cy="2514.9" r="10" fill="#42eeae" stroke="#000" stroke-width="3"/>
<circle cx="1921.7" cy="2523.8" r="10" fill="#42eeae" stroke="#000" stroke-width="3"/>
<circle cx="1902.8" cy="2536.8" r="10" fill="#42eeae" stroke="#000" stroke-width="3"/>
<circle cx="1900.8" cy="2527.8" r="10" fill="#42eeae" stroke="#000" stroke-width="3"/>
<circle cx="1889.9" cy="2540.8" r="10" fill="#42eeae" stroke="#000" stroke-width="3"/>
<circle cx="1894.8" cy="2546.7" r="10" fill="#42eeae" stroke="#000" stroke-width="3"/>
<circle cx="1876.9" cy="2555.7" r="10" fill="#42eeae" stroke="#000" stroke-width="3"/>
<circle cx="2367.5" cy="2068.9" r="10" fill="#42eeae" stroke="#000" stroke-width="3"/>
<circle cx="2188.7" cy="2261.5" r="10" fill="#42eeae" stroke="#000" stroke-width="3"/>
<circle cx="2178.4" cy="2259.5" r="10" fill="#42eeae" stroke="#000" stroke-width="3"/>
<circle cx="2157.8" cy="2284.2" r="10" fill="#42eeae" stroke="#000" stroke-width="3"/>
<circle cx="2097.8" cy="2344.5" r="10" fill="#42eeae" stroke="#000" stroke-width="3"/>
<circle cx="2087.5" cy="2352.2" r="10" fill="#42eeae" stroke="#000" stroke-width="3"/>
<circle cx="2074.6" cy="2358.1" r="10" fill="#42eeae" stroke="#000" stroke-width="3"/>
<circle cx="2077.2" cy="2367.7" r="10" fill="#42eeae" stroke="#000" stroke-width="3"/>
<circle cx="2037.3" cy="2372.3" r="10" fill="#42eeae" stroke="#000" stroke-width="3"/>
<circle cx="2004.3" cy="2376.2" r="10" fill="#42eeae" stroke="#000" stroke-width="3"/>
<circle cx="2052.7" cy="2391.6" r="10" fill="#42eeae" stroke="#000" stroke-width="3"/>
<circle cx="2043.7" cy="2389.0" r="10" fill="#42eeae" stroke="#000" stroke-width="3"/>
<circle cx="2039.9" cy="2399.4" r="10" fill="#42eeae" stroke="#000" stroke-width="3"/>
<circle cx="2014.1" cy="2416.1" r="10" fill="#42eeae" stroke="#000" stroke-width="3"/>
<circle cx="1609.4" cy="2931.7" r="10" fill="#42eeae" stroke="#000" stroke-width="3"/>
<line x1="1504.5" y1="2937.6" x2="1504.5" y2="2965" stroke="#000" stroke-width="6"/>
<text x="1467.3" y="3019.4" font-size="50.0" font-weight="bold" textLength="52.6" lengthAdjust="spacingAndGlyphs" >10</text>
<text x="1524.9" y="3008.7" font-size="37.6" font-weight="bold" textLength="19.6" lengthAdjust="spacingAndGlyphs" >0</text>
<line x1="1477" y1="2937.6" x2="1504.5" y2="2937.6" stroke="#000" stroke-width="6"/>
<text x="1393.0" y="2956.4" font-size="50.9" font-weight="bold" textLength="55.6" lengthAdjust="spacingAndGlyphs" >10</text>
<text x="1451.8" y="2941.5" font-size="33.0" font-weight="bold" textLength="17.3" lengthAdjust="spacingAndGlyphs" >0</text>
<line x1="1654.0" y1="2937.6" x2="1654.0" y2="2965" stroke="#000" stroke-width="6"/>
<text x="1616.8" y="3019.4" font-size="50.0" font-weight="bold" textLength="52.6" lengthAdjust="spacingAndGlyphs" >10</text>
<text x="1673.7" y="3008.7" font-size="38.1" font-weight="bold" textLength="19.9" lengthAdjust="spacingAndGlyphs" >1</text>
<line x1="1477" y1="2787.3" x2="1504.5" y2="2787.3" stroke="#000" stroke-width="6"/>
<text x="1393.0" y="2806.1" font-size="50.9" font-weight="bold" textLength="55.6" lengthAdjust="spacingAndGlyphs" >10</text>
<text x="1451.1" y="2791.2" font-size="33.5" font-weight="bold" textLength="17.5" lengthAdjust="spacingAndGlyphs" >1</text>
<line x1="1803.5" y1="2937.6" x2="1803.5" y2="2965" stroke="#000" stroke-width="6"/>
<text x="1766.3" y="3019.4" font-size="50.0" font-weight="bold" textLength="52.6" lengthAdjust="spacingAndGlyphs" >10</text>
<text x="1824.1" y="3008.7" font-size="37.6" font-weight="bold" textLength="19.6" lengthAdjust="spacingAndGlyphs" >2</text>
<line x1="1477" y1="2637.1" x2="1504.5" y2="2637.1" stroke="#000" stroke-width="6"/>
<text x="1393.0" y="2655.9" font-size="50.9" font-weight="bold" textLength="55.6" lengthAdjust="spacingAndGlyphs" >10</text>
<text x="1451.9" y="2641.0" font-size="33.0" font-weight="bold" textLength="17.3" lengthAdjust="spacingAndGlyphs" >2</text>
<line x1="1953.0" y1="2937.6" x2="1953.0" y2="2965" stroke="#000" stroke-width="6"/>
<text x="1915.8" y="3019.4" font-size="50.0" font-weight="bold" textLength="52.6" lengthAdjust="spacingAndGlyphs" >10</text>
<text x="1973.9" y="3008.7" font-size="37.6" font-weight="bold" textLength="19.6" lengthAdjust="spacingAndGlyphs" >3</text>
<line x1="1477" y1="2486.8" x2="1504.5" y2="2486.8" stroke="#000" stroke-width="6"/>
<text x="1393.0" y="2505.6" font-size="50.9" font-weight="bold" textLength="55.6" lengthAdjust="spacingAndGlyphs" >10</text>
<text x="1452.2" y="2490.7" font-size="33.0" font-weight="bold" textLength="17.3" lengthAdjust="spacingAndGlyphs" >3</text>
<line x1="2102.5" y1="2937.6" x2="2102.5" y2="2965" stroke="#000" stroke-width="6"/>
<text x="2065.3" y="3019.4" font-size="50.0" font-weight="bold" textLength="52.6" lengthAdjust="spacingAndGlyphs" >10</text>
<text x="2123.8" y="3008.7" font-size="38.1" font-weight="bold" textLength="19.9" lengthAdjust="spacingAndGlyphs" >4</text>
<line x1="1477" y1="2336.5" x2="1504.5" y2="2336.5" stroke="#000" stroke-width="6"/>
<text x="1393.0" y="2355.3" font-size="50.9" font-weight="bold" textLength="55.6" lengthAdjust="spacingAndGlyphs" >10</text>
<text x="1452.5" y="2340.4" font-size="33.5" font-weight="bold" textLength="17.5" lengthAdjust="spacingAndGlyphs" >4</text>
<line x1="2252.0" y1="2937.6" x2="2252.0" y2="2965" stroke="#000" stroke-width="6"/>
<text x="2214.8" y="3019.4" font-size="50.0" font-weight="bold" textLength="52.6" lengthAdjust="spacingAndGlyphs" >10</text>
<text x="2272.7" y="3008.7" font-size="38.1" font-weight="bold" textLength="19.9" lengthAdjust="spacingAndGlyphs" >5</text>
<line x1="1477" y1="2186.3" x2="1504.5" y2="2186.3" stroke="#000" stroke-width="6"/>
<text x="1393.0" y="2205.1" font-size="50.9" font-weight="bold" textLength="55.6" lengthAdjust="spacingAndGlyphs" >10</text>
<text x="1452.1" y="2190.2" font-size="33.5" font-weight="bold" textLength="17.5" lengthAdjust="spacingAndGlyphs" >5</text>
<line x1="2401.5" y1="2937.6" x2="2401.5" y2="2965" stroke="#000" stroke-width="6"/>
<text x="2364.3" y="3019.4" font-size="50.0" font-weight="bold" textLength="52.6" lengthAdjust="spacingAndGlyphs" >10</text>
<text x="2422.1" y="3008.7" font-size="37.6" font-weight="bold" textLength="19.6" lengthAdjust="spacingAndGlyphs" >6</text>
<line x1="1477" y1="2036.0" x2="1504.5" y2="2036.0" stroke="#000" stroke-width="6"/>
<text x="1393.0" y="2054.8" font-size="50.9" font-weight="bold" textLength="55.6" lengthAdjust="spacingAndGlyphs" >10</text>
<text x="1451.9" y="2039.9" font-size="33.0" font-weight="bold" textLength="17.3" lengthAdjust="spacingAndGlyphs" >6</text>
<text transform="translate(1357.9,2669.0) rotate(-90)" x="-3.6" y="0" font-size="55.6" font-weight="bold">BCD (fmol/µL)</text>
<text x="1668.5" y="3086.3" font-size="54.5" font-weight="bold" >Neat Plasma (fmol/µL)</text>
<text x="2146.7" y="2852.9" font-size="42.0" font-family="'Liberation Serif', 'Times New Roman', serif" font-style="italic" font-weight="bold" textLength="24.3" lengthAdjust="spacingAndGlyphs" >y</text>
<text x="2174.7" y="2852.9" font-size="42.0" font-family="'Liberation Serif', 'Times New Roman', serif" font-style="italic" font-weight="bold" textLength="34.7" lengthAdjust="spacingAndGlyphs" >=</text>
<text x="2215.3" y="2852.9" font-size="42.3" font-family="'Liberation Serif', 'Times New Roman', serif" font-style="italic" font-weight="bold" textLength="143.4" lengthAdjust="spacingAndGlyphs" >1.0326x</text>
<text x="2146.8" y="2901.3" font-size="40.2" font-family="'Liberation Serif', 'Times New Roman', serif" font-style="italic" font-weight="bold" textLength="27.2" lengthAdjust="spacingAndGlyphs" >R</text>
<text x="2175.2" y="2890.0" font-size="28.0" font-family="'Liberation Serif', 'Times New Roman', serif" font-style="italic" font-weight="bold" textLength="11.9" lengthAdjust="spacingAndGlyphs" >2</text>
<text x="2194.2" y="2901.3" font-size="42.0" font-family="'Liberation Serif', 'Times New Roman', serif" font-style="italic" font-weight="bold" textLength="33.9" lengthAdjust="spacingAndGlyphs" >=</text>
<text x="2234.4" y="2901.3" font-size="41.1" font-family="'Liberation Serif', 'Times New Roman', serif" font-style="italic" font-weight="bold" textLength="122.3" lengthAdjust="spacingAndGlyphs" >0.9997</text>
</svg>
</body></html>
